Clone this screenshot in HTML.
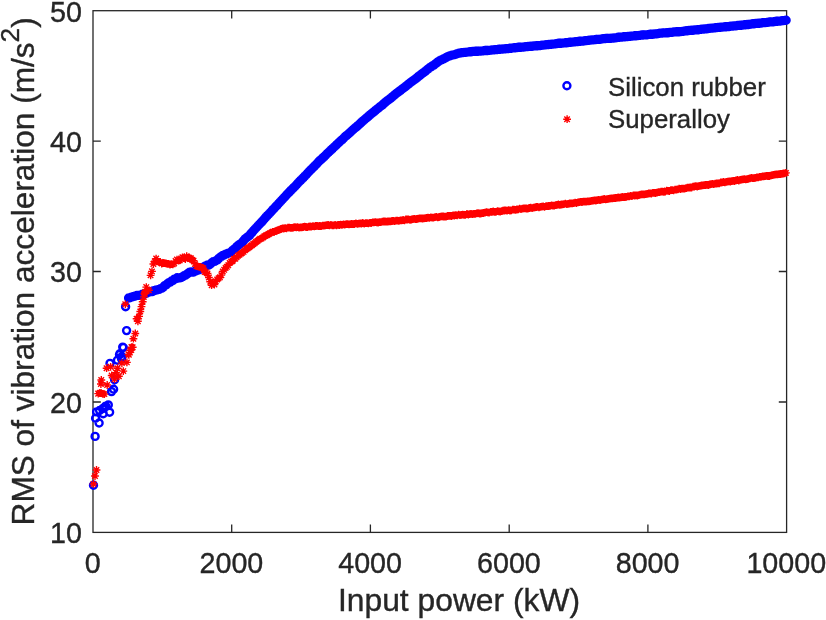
<!DOCTYPE html>
<html><head><meta charset="utf-8"><title>RMS of vibration acceleration vs input power</title>
<style>html,body{margin:0;padding:0;background:#fff}svg{display:block}text{font-family:"Liberation Sans",Arial,sans-serif;fill:#262626;stroke:#262626;stroke-width:0.35px}</style></head><body>
<svg width="826" height="620" viewBox="0 0 826 620">
<rect width="826" height="620" fill="#fff"/>
<g fill="none" stroke="#262626" stroke-width="1.3">
<rect x="93.0" y="10.7" width="693.6" height="521.7"/>
<path d="M231.7 532.4v-7.8M231.7 10.7v7.8M370.4 532.4v-7.8M370.4 10.7v7.8M509.2 532.4v-7.8M509.2 10.7v7.8M647.9 532.4v-7.8M647.9 10.7v7.8M93.0 402.0h7.8M786.6 402.0h-7.8M93.0 271.5h7.8M786.6 271.5h-7.8M93.0 141.1h7.8M786.6 141.1h-7.8"/>
</g>
<g fill="none" stroke="#0000ff" stroke-width="2.4"><path d="M90.0 485.2a3.50 3.50 0 1 0 7.00 0a3.50 3.50 0 1 0 -7.00 0M91.6 436.4a3.50 3.50 0 1 0 7.00 0a3.50 3.50 0 1 0 -7.00 0M92.1 418.3a3.50 3.50 0 1 0 7.00 0a3.50 3.50 0 1 0 -7.00 0M93.1 411.9a3.50 3.50 0 1 0 7.00 0a3.50 3.50 0 1 0 -7.00 0M95.6 423.0a3.50 3.50 0 1 0 7.00 0a3.50 3.50 0 1 0 -7.00 0M96.1 410.5a3.50 3.50 0 1 0 7.00 0a3.50 3.50 0 1 0 -7.00 0M99.1 408.7a3.50 3.50 0 1 0 7.00 0a3.50 3.50 0 1 0 -7.00 0M99.7 413.8a3.50 3.50 0 1 0 7.00 0a3.50 3.50 0 1 0 -7.00 0M100.9 407.4a3.50 3.50 0 1 0 7.00 0a3.50 3.50 0 1 0 -7.00 0M102.2 406.1a3.50 3.50 0 1 0 7.00 0a3.50 3.50 0 1 0 -7.00 0M104.8 404.9a3.50 3.50 0 1 0 7.00 0a3.50 3.50 0 1 0 -7.00 0M106.1 412.2a3.50 3.50 0 1 0 7.00 0a3.50 3.50 0 1 0 -7.00 0M108.0 391.6a3.50 3.50 0 1 0 7.00 0a3.50 3.50 0 1 0 -7.00 0M110.1 389.2a3.50 3.50 0 1 0 7.00 0a3.50 3.50 0 1 0 -7.00 0M106.5 363.4a3.50 3.50 0 1 0 7.00 0a3.50 3.50 0 1 0 -7.00 0M111.1 379.8a3.50 3.50 0 1 0 7.00 0a3.50 3.50 0 1 0 -7.00 0M113.9 360.2a3.50 3.50 0 1 0 7.00 0a3.50 3.50 0 1 0 -7.00 0M116.5 353.6a3.50 3.50 0 1 0 7.00 0a3.50 3.50 0 1 0 -7.00 0M118.4 356.6a3.50 3.50 0 1 0 7.00 0a3.50 3.50 0 1 0 -7.00 0M116.0 354.6a3.50 3.50 0 1 0 7.00 0a3.50 3.50 0 1 0 -7.00 0M118.0 358.7a3.50 3.50 0 1 0 7.00 0a3.50 3.50 0 1 0 -7.00 0M119.2 347.1a3.50 3.50 0 1 0 7.00 0a3.50 3.50 0 1 0 -7.00 0M119.8 347.5a3.50 3.50 0 1 0 7.00 0a3.50 3.50 0 1 0 -7.00 0M123.1 330.6a3.50 3.50 0 1 0 7.00 0a3.50 3.50 0 1 0 -7.00 0M122.1 306.7a3.50 3.50 0 1 0 7.00 0a3.50 3.50 0 1 0 -7.00 0M125.1 298.0a3.50 3.50 0 1 0 7.00 0a3.50 3.50 0 1 0 -7.00 0M126.5 297.7a3.50 3.50 0 1 0 7.00 0a3.50 3.50 0 1 0 -7.00 0M127.9 297.1a3.50 3.50 0 1 0 7.00 0a3.50 3.50 0 1 0 -7.00 0M129.3 296.7a3.50 3.50 0 1 0 7.00 0a3.50 3.50 0 1 0 -7.00 0M130.6 296.4a3.50 3.50 0 1 0 7.00 0a3.50 3.50 0 1 0 -7.00 0M132.0 296.0a3.50 3.50 0 1 0 7.00 0a3.50 3.50 0 1 0 -7.00 0M133.4 295.5a3.50 3.50 0 1 0 7.00 0a3.50 3.50 0 1 0 -7.00 0M134.8 295.4a3.50 3.50 0 1 0 7.00 0a3.50 3.50 0 1 0 -7.00 0M136.2 295.2a3.50 3.50 0 1 0 7.00 0a3.50 3.50 0 1 0 -7.00 0M137.6 295.0a3.50 3.50 0 1 0 7.00 0a3.50 3.50 0 1 0 -7.00 0M139.0 294.3a3.50 3.50 0 1 0 7.00 0a3.50 3.50 0 1 0 -7.00 0M140.4 293.9a3.50 3.50 0 1 0 7.00 0a3.50 3.50 0 1 0 -7.00 0M141.7 293.6a3.50 3.50 0 1 0 7.00 0a3.50 3.50 0 1 0 -7.00 0M143.1 293.1a3.50 3.50 0 1 0 7.00 0a3.50 3.50 0 1 0 -7.00 0M144.5 292.2a3.50 3.50 0 1 0 7.00 0a3.50 3.50 0 1 0 -7.00 0M145.9 292.0a3.50 3.50 0 1 0 7.00 0a3.50 3.50 0 1 0 -7.00 0M147.3 291.6a3.50 3.50 0 1 0 7.00 0a3.50 3.50 0 1 0 -7.00 0M148.7 291.6a3.50 3.50 0 1 0 7.00 0a3.50 3.50 0 1 0 -7.00 0M150.1 290.6a3.50 3.50 0 1 0 7.00 0a3.50 3.50 0 1 0 -7.00 0M151.5 290.5a3.50 3.50 0 1 0 7.00 0a3.50 3.50 0 1 0 -7.00 0M152.8 290.0a3.50 3.50 0 1 0 7.00 0a3.50 3.50 0 1 0 -7.00 0M154.2 289.8a3.50 3.50 0 1 0 7.00 0a3.50 3.50 0 1 0 -7.00 0M155.6 289.4a3.50 3.50 0 1 0 7.00 0a3.50 3.50 0 1 0 -7.00 0M157.0 288.8a3.50 3.50 0 1 0 7.00 0a3.50 3.50 0 1 0 -7.00 0M158.4 288.1a3.50 3.50 0 1 0 7.00 0a3.50 3.50 0 1 0 -7.00 0M159.8 287.1a3.50 3.50 0 1 0 7.00 0a3.50 3.50 0 1 0 -7.00 0M161.2 285.6a3.50 3.50 0 1 0 7.00 0a3.50 3.50 0 1 0 -7.00 0M162.6 284.9a3.50 3.50 0 1 0 7.00 0a3.50 3.50 0 1 0 -7.00 0M163.9 283.7a3.50 3.50 0 1 0 7.00 0a3.50 3.50 0 1 0 -7.00 0M165.3 282.8a3.50 3.50 0 1 0 7.00 0a3.50 3.50 0 1 0 -7.00 0M166.7 282.1a3.50 3.50 0 1 0 7.00 0a3.50 3.50 0 1 0 -7.00 0M168.1 281.0a3.50 3.50 0 1 0 7.00 0a3.50 3.50 0 1 0 -7.00 0M169.5 280.5a3.50 3.50 0 1 0 7.00 0a3.50 3.50 0 1 0 -7.00 0M170.9 279.1a3.50 3.50 0 1 0 7.00 0a3.50 3.50 0 1 0 -7.00 0M172.3 278.8a3.50 3.50 0 1 0 7.00 0a3.50 3.50 0 1 0 -7.00 0M173.7 277.8a3.50 3.50 0 1 0 7.00 0a3.50 3.50 0 1 0 -7.00 0M175.0 278.0a3.50 3.50 0 1 0 7.00 0a3.50 3.50 0 1 0 -7.00 0M176.4 277.9a3.50 3.50 0 1 0 7.00 0a3.50 3.50 0 1 0 -7.00 0M177.8 277.5a3.50 3.50 0 1 0 7.00 0a3.50 3.50 0 1 0 -7.00 0M179.2 276.7a3.50 3.50 0 1 0 7.00 0a3.50 3.50 0 1 0 -7.00 0M180.6 275.7a3.50 3.50 0 1 0 7.00 0a3.50 3.50 0 1 0 -7.00 0M182.0 275.3a3.50 3.50 0 1 0 7.00 0a3.50 3.50 0 1 0 -7.00 0M183.4 274.3a3.50 3.50 0 1 0 7.00 0a3.50 3.50 0 1 0 -7.00 0M184.7 273.3a3.50 3.50 0 1 0 7.00 0a3.50 3.50 0 1 0 -7.00 0M186.1 272.2a3.50 3.50 0 1 0 7.00 0a3.50 3.50 0 1 0 -7.00 0M187.5 271.9a3.50 3.50 0 1 0 7.00 0a3.50 3.50 0 1 0 -7.00 0M188.9 272.1a3.50 3.50 0 1 0 7.00 0a3.50 3.50 0 1 0 -7.00 0M190.3 272.0a3.50 3.50 0 1 0 7.00 0a3.50 3.50 0 1 0 -7.00 0M191.7 271.2a3.50 3.50 0 1 0 7.00 0a3.50 3.50 0 1 0 -7.00 0M193.1 270.7a3.50 3.50 0 1 0 7.00 0a3.50 3.50 0 1 0 -7.00 0M194.5 270.1a3.50 3.50 0 1 0 7.00 0a3.50 3.50 0 1 0 -7.00 0M195.8 269.7a3.50 3.50 0 1 0 7.00 0a3.50 3.50 0 1 0 -7.00 0M197.2 268.7a3.50 3.50 0 1 0 7.00 0a3.50 3.50 0 1 0 -7.00 0M198.6 268.0a3.50 3.50 0 1 0 7.00 0a3.50 3.50 0 1 0 -7.00 0M200.0 267.2a3.50 3.50 0 1 0 7.00 0a3.50 3.50 0 1 0 -7.00 0M201.4 266.2a3.50 3.50 0 1 0 7.00 0a3.50 3.50 0 1 0 -7.00 0M202.8 265.7a3.50 3.50 0 1 0 7.00 0a3.50 3.50 0 1 0 -7.00 0M204.2 265.0a3.50 3.50 0 1 0 7.00 0a3.50 3.50 0 1 0 -7.00 0M205.6 265.0a3.50 3.50 0 1 0 7.00 0a3.50 3.50 0 1 0 -7.00 0M206.9 264.0a3.50 3.50 0 1 0 7.00 0a3.50 3.50 0 1 0 -7.00 0M208.3 262.8a3.50 3.50 0 1 0 7.00 0a3.50 3.50 0 1 0 -7.00 0M209.7 261.7a3.50 3.50 0 1 0 7.00 0a3.50 3.50 0 1 0 -7.00 0M211.1 261.4a3.50 3.50 0 1 0 7.00 0a3.50 3.50 0 1 0 -7.00 0M212.5 260.8a3.50 3.50 0 1 0 7.00 0a3.50 3.50 0 1 0 -7.00 0M213.9 259.9a3.50 3.50 0 1 0 7.00 0a3.50 3.50 0 1 0 -7.00 0M215.3 258.4a3.50 3.50 0 1 0 7.00 0a3.50 3.50 0 1 0 -7.00 0M216.7 257.2a3.50 3.50 0 1 0 7.00 0a3.50 3.50 0 1 0 -7.00 0M218.0 256.4a3.50 3.50 0 1 0 7.00 0a3.50 3.50 0 1 0 -7.00 0M219.4 255.4a3.50 3.50 0 1 0 7.00 0a3.50 3.50 0 1 0 -7.00 0M220.8 255.0a3.50 3.50 0 1 0 7.00 0a3.50 3.50 0 1 0 -7.00 0M222.2 254.2a3.50 3.50 0 1 0 7.00 0a3.50 3.50 0 1 0 -7.00 0M223.6 253.8a3.50 3.50 0 1 0 7.00 0a3.50 3.50 0 1 0 -7.00 0M225.0 253.1a3.50 3.50 0 1 0 7.00 0a3.50 3.50 0 1 0 -7.00 0M226.4 252.8a3.50 3.50 0 1 0 7.00 0a3.50 3.50 0 1 0 -7.00 0M227.8 251.7a3.50 3.50 0 1 0 7.00 0a3.50 3.50 0 1 0 -7.00 0M229.1 250.4a3.50 3.50 0 1 0 7.00 0a3.50 3.50 0 1 0 -7.00 0M230.5 249.2a3.50 3.50 0 1 0 7.00 0a3.50 3.50 0 1 0 -7.00 0M231.9 248.2a3.50 3.50 0 1 0 7.00 0a3.50 3.50 0 1 0 -7.00 0M233.3 246.6a3.50 3.50 0 1 0 7.00 0a3.50 3.50 0 1 0 -7.00 0M234.7 245.4a3.50 3.50 0 1 0 7.00 0a3.50 3.50 0 1 0 -7.00 0M236.1 244.4a3.50 3.50 0 1 0 7.00 0a3.50 3.50 0 1 0 -7.00 0M237.5 243.7a3.50 3.50 0 1 0 7.00 0a3.50 3.50 0 1 0 -7.00 0M238.9 242.1a3.50 3.50 0 1 0 7.00 0a3.50 3.50 0 1 0 -7.00 0M240.2 240.5a3.50 3.50 0 1 0 7.00 0a3.50 3.50 0 1 0 -7.00 0M241.6 238.9a3.50 3.50 0 1 0 7.00 0a3.50 3.50 0 1 0 -7.00 0M243.0 237.8a3.50 3.50 0 1 0 7.00 0a3.50 3.50 0 1 0 -7.00 0M244.4 236.8a3.50 3.50 0 1 0 7.00 0a3.50 3.50 0 1 0 -7.00 0M245.8 235.8a3.50 3.50 0 1 0 7.00 0a3.50 3.50 0 1 0 -7.00 0M247.2 233.9a3.50 3.50 0 1 0 7.00 0a3.50 3.50 0 1 0 -7.00 0M248.6 232.4a3.50 3.50 0 1 0 7.00 0a3.50 3.50 0 1 0 -7.00 0M249.9 230.8a3.50 3.50 0 1 0 7.00 0a3.50 3.50 0 1 0 -7.00 0M251.3 229.3a3.50 3.50 0 1 0 7.00 0a3.50 3.50 0 1 0 -7.00 0M252.7 227.8a3.50 3.50 0 1 0 7.00 0a3.50 3.50 0 1 0 -7.00 0M254.1 226.2a3.50 3.50 0 1 0 7.00 0a3.50 3.50 0 1 0 -7.00 0M255.5 224.8a3.50 3.50 0 1 0 7.00 0a3.50 3.50 0 1 0 -7.00 0M256.9 223.3a3.50 3.50 0 1 0 7.00 0a3.50 3.50 0 1 0 -7.00 0M258.3 221.9a3.50 3.50 0 1 0 7.00 0a3.50 3.50 0 1 0 -7.00 0M259.7 220.3a3.50 3.50 0 1 0 7.00 0a3.50 3.50 0 1 0 -7.00 0M261.0 218.7a3.50 3.50 0 1 0 7.00 0a3.50 3.50 0 1 0 -7.00 0M262.4 217.1a3.50 3.50 0 1 0 7.00 0a3.50 3.50 0 1 0 -7.00 0M263.8 215.6a3.50 3.50 0 1 0 7.00 0a3.50 3.50 0 1 0 -7.00 0M265.2 214.2a3.50 3.50 0 1 0 7.00 0a3.50 3.50 0 1 0 -7.00 0M266.6 212.7a3.50 3.50 0 1 0 7.00 0a3.50 3.50 0 1 0 -7.00 0M268.0 211.2a3.50 3.50 0 1 0 7.00 0a3.50 3.50 0 1 0 -7.00 0M269.4 209.6a3.50 3.50 0 1 0 7.00 0a3.50 3.50 0 1 0 -7.00 0M270.8 208.3a3.50 3.50 0 1 0 7.00 0a3.50 3.50 0 1 0 -7.00 0M272.1 206.8a3.50 3.50 0 1 0 7.00 0a3.50 3.50 0 1 0 -7.00 0M273.5 205.4a3.50 3.50 0 1 0 7.00 0a3.50 3.50 0 1 0 -7.00 0M274.9 203.8a3.50 3.50 0 1 0 7.00 0a3.50 3.50 0 1 0 -7.00 0M276.3 202.3a3.50 3.50 0 1 0 7.00 0a3.50 3.50 0 1 0 -7.00 0M277.7 200.7a3.50 3.50 0 1 0 7.00 0a3.50 3.50 0 1 0 -7.00 0M279.1 199.3a3.50 3.50 0 1 0 7.00 0a3.50 3.50 0 1 0 -7.00 0M280.5 197.8a3.50 3.50 0 1 0 7.00 0a3.50 3.50 0 1 0 -7.00 0M281.9 196.3a3.50 3.50 0 1 0 7.00 0a3.50 3.50 0 1 0 -7.00 0M283.2 194.8a3.50 3.50 0 1 0 7.00 0a3.50 3.50 0 1 0 -7.00 0M284.6 193.3a3.50 3.50 0 1 0 7.00 0a3.50 3.50 0 1 0 -7.00 0M286.0 191.9a3.50 3.50 0 1 0 7.00 0a3.50 3.50 0 1 0 -7.00 0M287.4 190.4a3.50 3.50 0 1 0 7.00 0a3.50 3.50 0 1 0 -7.00 0M288.8 189.0a3.50 3.50 0 1 0 7.00 0a3.50 3.50 0 1 0 -7.00 0M290.2 187.6a3.50 3.50 0 1 0 7.00 0a3.50 3.50 0 1 0 -7.00 0M291.6 186.2a3.50 3.50 0 1 0 7.00 0a3.50 3.50 0 1 0 -7.00 0M293.0 184.7a3.50 3.50 0 1 0 7.00 0a3.50 3.50 0 1 0 -7.00 0M294.3 183.2a3.50 3.50 0 1 0 7.00 0a3.50 3.50 0 1 0 -7.00 0M295.7 181.8a3.50 3.50 0 1 0 7.00 0a3.50 3.50 0 1 0 -7.00 0M297.1 180.4a3.50 3.50 0 1 0 7.00 0a3.50 3.50 0 1 0 -7.00 0M298.5 179.0a3.50 3.50 0 1 0 7.00 0a3.50 3.50 0 1 0 -7.00 0M299.9 177.6a3.50 3.50 0 1 0 7.00 0a3.50 3.50 0 1 0 -7.00 0M301.3 176.1a3.50 3.50 0 1 0 7.00 0a3.50 3.50 0 1 0 -7.00 0M302.7 174.7a3.50 3.50 0 1 0 7.00 0a3.50 3.50 0 1 0 -7.00 0M304.0 173.2a3.50 3.50 0 1 0 7.00 0a3.50 3.50 0 1 0 -7.00 0M305.4 171.8a3.50 3.50 0 1 0 7.00 0a3.50 3.50 0 1 0 -7.00 0M306.8 170.3a3.50 3.50 0 1 0 7.00 0a3.50 3.50 0 1 0 -7.00 0M308.2 169.0a3.50 3.50 0 1 0 7.00 0a3.50 3.50 0 1 0 -7.00 0M309.6 167.5a3.50 3.50 0 1 0 7.00 0a3.50 3.50 0 1 0 -7.00 0M311.0 166.1a3.50 3.50 0 1 0 7.00 0a3.50 3.50 0 1 0 -7.00 0M312.4 164.7a3.50 3.50 0 1 0 7.00 0a3.50 3.50 0 1 0 -7.00 0M313.8 163.2a3.50 3.50 0 1 0 7.00 0a3.50 3.50 0 1 0 -7.00 0M315.1 161.8a3.50 3.50 0 1 0 7.00 0a3.50 3.50 0 1 0 -7.00 0M316.5 160.4a3.50 3.50 0 1 0 7.00 0a3.50 3.50 0 1 0 -7.00 0M317.9 159.2a3.50 3.50 0 1 0 7.00 0a3.50 3.50 0 1 0 -7.00 0M319.3 157.9a3.50 3.50 0 1 0 7.00 0a3.50 3.50 0 1 0 -7.00 0M320.7 156.6a3.50 3.50 0 1 0 7.00 0a3.50 3.50 0 1 0 -7.00 0M322.1 155.2a3.50 3.50 0 1 0 7.00 0a3.50 3.50 0 1 0 -7.00 0M323.5 153.8a3.50 3.50 0 1 0 7.00 0a3.50 3.50 0 1 0 -7.00 0M324.9 152.5a3.50 3.50 0 1 0 7.00 0a3.50 3.50 0 1 0 -7.00 0M326.2 151.2a3.50 3.50 0 1 0 7.00 0a3.50 3.50 0 1 0 -7.00 0M327.6 149.9a3.50 3.50 0 1 0 7.00 0a3.50 3.50 0 1 0 -7.00 0M329.0 148.6a3.50 3.50 0 1 0 7.00 0a3.50 3.50 0 1 0 -7.00 0M330.4 147.2a3.50 3.50 0 1 0 7.00 0a3.50 3.50 0 1 0 -7.00 0M331.8 146.0a3.50 3.50 0 1 0 7.00 0a3.50 3.50 0 1 0 -7.00 0M333.2 144.6a3.50 3.50 0 1 0 7.00 0a3.50 3.50 0 1 0 -7.00 0M334.6 143.3a3.50 3.50 0 1 0 7.00 0a3.50 3.50 0 1 0 -7.00 0M336.0 142.0a3.50 3.50 0 1 0 7.00 0a3.50 3.50 0 1 0 -7.00 0M337.3 140.8a3.50 3.50 0 1 0 7.00 0a3.50 3.50 0 1 0 -7.00 0M338.7 139.6a3.50 3.50 0 1 0 7.00 0a3.50 3.50 0 1 0 -7.00 0M340.1 138.2a3.50 3.50 0 1 0 7.00 0a3.50 3.50 0 1 0 -7.00 0M341.5 136.8a3.50 3.50 0 1 0 7.00 0a3.50 3.50 0 1 0 -7.00 0M342.9 135.6a3.50 3.50 0 1 0 7.00 0a3.50 3.50 0 1 0 -7.00 0M344.3 134.5a3.50 3.50 0 1 0 7.00 0a3.50 3.50 0 1 0 -7.00 0M345.7 133.2a3.50 3.50 0 1 0 7.00 0a3.50 3.50 0 1 0 -7.00 0M347.1 132.0a3.50 3.50 0 1 0 7.00 0a3.50 3.50 0 1 0 -7.00 0M348.4 130.8a3.50 3.50 0 1 0 7.00 0a3.50 3.50 0 1 0 -7.00 0M349.8 129.5a3.50 3.50 0 1 0 7.00 0a3.50 3.50 0 1 0 -7.00 0M351.2 128.3a3.50 3.50 0 1 0 7.00 0a3.50 3.50 0 1 0 -7.00 0M352.6 127.1a3.50 3.50 0 1 0 7.00 0a3.50 3.50 0 1 0 -7.00 0M354.0 125.9a3.50 3.50 0 1 0 7.00 0a3.50 3.50 0 1 0 -7.00 0M355.4 124.7a3.50 3.50 0 1 0 7.00 0a3.50 3.50 0 1 0 -7.00 0M356.8 123.4a3.50 3.50 0 1 0 7.00 0a3.50 3.50 0 1 0 -7.00 0M358.1 122.1a3.50 3.50 0 1 0 7.00 0a3.50 3.50 0 1 0 -7.00 0M359.5 120.9a3.50 3.50 0 1 0 7.00 0a3.50 3.50 0 1 0 -7.00 0M360.9 119.7a3.50 3.50 0 1 0 7.00 0a3.50 3.50 0 1 0 -7.00 0M362.3 118.5a3.50 3.50 0 1 0 7.00 0a3.50 3.50 0 1 0 -7.00 0M363.7 117.4a3.50 3.50 0 1 0 7.00 0a3.50 3.50 0 1 0 -7.00 0M365.1 116.1a3.50 3.50 0 1 0 7.00 0a3.50 3.50 0 1 0 -7.00 0M366.5 114.9a3.50 3.50 0 1 0 7.00 0a3.50 3.50 0 1 0 -7.00 0M367.9 113.8a3.50 3.50 0 1 0 7.00 0a3.50 3.50 0 1 0 -7.00 0M369.2 112.7a3.50 3.50 0 1 0 7.00 0a3.50 3.50 0 1 0 -7.00 0M370.6 111.6a3.50 3.50 0 1 0 7.00 0a3.50 3.50 0 1 0 -7.00 0M372.0 110.4a3.50 3.50 0 1 0 7.00 0a3.50 3.50 0 1 0 -7.00 0M373.4 109.2a3.50 3.50 0 1 0 7.00 0a3.50 3.50 0 1 0 -7.00 0M374.8 108.2a3.50 3.50 0 1 0 7.00 0a3.50 3.50 0 1 0 -7.00 0M376.2 107.0a3.50 3.50 0 1 0 7.00 0a3.50 3.50 0 1 0 -7.00 0M377.6 106.0a3.50 3.50 0 1 0 7.00 0a3.50 3.50 0 1 0 -7.00 0M379.0 104.9a3.50 3.50 0 1 0 7.00 0a3.50 3.50 0 1 0 -7.00 0M380.3 103.6a3.50 3.50 0 1 0 7.00 0a3.50 3.50 0 1 0 -7.00 0M381.7 102.4a3.50 3.50 0 1 0 7.00 0a3.50 3.50 0 1 0 -7.00 0M383.1 101.3a3.50 3.50 0 1 0 7.00 0a3.50 3.50 0 1 0 -7.00 0M384.5 100.2a3.50 3.50 0 1 0 7.00 0a3.50 3.50 0 1 0 -7.00 0M385.9 99.2a3.50 3.50 0 1 0 7.00 0a3.50 3.50 0 1 0 -7.00 0M387.3 98.1a3.50 3.50 0 1 0 7.00 0a3.50 3.50 0 1 0 -7.00 0M388.7 96.9a3.50 3.50 0 1 0 7.00 0a3.50 3.50 0 1 0 -7.00 0M390.1 95.8a3.50 3.50 0 1 0 7.00 0a3.50 3.50 0 1 0 -7.00 0M391.4 94.6a3.50 3.50 0 1 0 7.00 0a3.50 3.50 0 1 0 -7.00 0M392.8 93.5a3.50 3.50 0 1 0 7.00 0a3.50 3.50 0 1 0 -7.00 0M394.2 92.5a3.50 3.50 0 1 0 7.00 0a3.50 3.50 0 1 0 -7.00 0M395.6 91.4a3.50 3.50 0 1 0 7.00 0a3.50 3.50 0 1 0 -7.00 0M397.0 90.4a3.50 3.50 0 1 0 7.00 0a3.50 3.50 0 1 0 -7.00 0M398.4 89.3a3.50 3.50 0 1 0 7.00 0a3.50 3.50 0 1 0 -7.00 0M399.8 88.3a3.50 3.50 0 1 0 7.00 0a3.50 3.50 0 1 0 -7.00 0M401.2 87.2a3.50 3.50 0 1 0 7.00 0a3.50 3.50 0 1 0 -7.00 0M402.5 86.1a3.50 3.50 0 1 0 7.00 0a3.50 3.50 0 1 0 -7.00 0M403.9 85.0a3.50 3.50 0 1 0 7.00 0a3.50 3.50 0 1 0 -7.00 0M405.3 83.9a3.50 3.50 0 1 0 7.00 0a3.50 3.50 0 1 0 -7.00 0M406.7 82.8a3.50 3.50 0 1 0 7.00 0a3.50 3.50 0 1 0 -7.00 0M408.1 81.8a3.50 3.50 0 1 0 7.00 0a3.50 3.50 0 1 0 -7.00 0M409.5 80.8a3.50 3.50 0 1 0 7.00 0a3.50 3.50 0 1 0 -7.00 0M410.9 79.8a3.50 3.50 0 1 0 7.00 0a3.50 3.50 0 1 0 -7.00 0M412.3 78.7a3.50 3.50 0 1 0 7.00 0a3.50 3.50 0 1 0 -7.00 0M413.6 77.6a3.50 3.50 0 1 0 7.00 0a3.50 3.50 0 1 0 -7.00 0M415.0 76.4a3.50 3.50 0 1 0 7.00 0a3.50 3.50 0 1 0 -7.00 0M416.4 75.4a3.50 3.50 0 1 0 7.00 0a3.50 3.50 0 1 0 -7.00 0M417.8 74.3a3.50 3.50 0 1 0 7.00 0a3.50 3.50 0 1 0 -7.00 0M419.2 73.3a3.50 3.50 0 1 0 7.00 0a3.50 3.50 0 1 0 -7.00 0M420.6 72.2a3.50 3.50 0 1 0 7.00 0a3.50 3.50 0 1 0 -7.00 0M422.0 71.1a3.50 3.50 0 1 0 7.00 0a3.50 3.50 0 1 0 -7.00 0M423.3 70.0a3.50 3.50 0 1 0 7.00 0a3.50 3.50 0 1 0 -7.00 0M424.7 68.9a3.50 3.50 0 1 0 7.00 0a3.50 3.50 0 1 0 -7.00 0M426.1 67.8a3.50 3.50 0 1 0 7.00 0a3.50 3.50 0 1 0 -7.00 0M427.5 66.9a3.50 3.50 0 1 0 7.00 0a3.50 3.50 0 1 0 -7.00 0M428.9 65.9a3.50 3.50 0 1 0 7.00 0a3.50 3.50 0 1 0 -7.00 0M430.3 65.1a3.50 3.50 0 1 0 7.00 0a3.50 3.50 0 1 0 -7.00 0M431.7 64.0a3.50 3.50 0 1 0 7.00 0a3.50 3.50 0 1 0 -7.00 0M433.1 63.0a3.50 3.50 0 1 0 7.00 0a3.50 3.50 0 1 0 -7.00 0M434.4 61.9a3.50 3.50 0 1 0 7.00 0a3.50 3.50 0 1 0 -7.00 0M435.8 61.0a3.50 3.50 0 1 0 7.00 0a3.50 3.50 0 1 0 -7.00 0M437.2 60.3a3.50 3.50 0 1 0 7.00 0a3.50 3.50 0 1 0 -7.00 0M438.6 59.6a3.50 3.50 0 1 0 7.00 0a3.50 3.50 0 1 0 -7.00 0M440.0 58.9a3.50 3.50 0 1 0 7.00 0a3.50 3.50 0 1 0 -7.00 0M441.4 58.2a3.50 3.50 0 1 0 7.00 0a3.50 3.50 0 1 0 -7.00 0M442.8 57.5a3.50 3.50 0 1 0 7.00 0a3.50 3.50 0 1 0 -7.00 0M444.2 56.8a3.50 3.50 0 1 0 7.00 0a3.50 3.50 0 1 0 -7.00 0M445.5 56.1a3.50 3.50 0 1 0 7.00 0a3.50 3.50 0 1 0 -7.00 0M446.9 55.7a3.50 3.50 0 1 0 7.00 0a3.50 3.50 0 1 0 -7.00 0M448.3 55.3a3.50 3.50 0 1 0 7.00 0a3.50 3.50 0 1 0 -7.00 0M449.7 54.9a3.50 3.50 0 1 0 7.00 0a3.50 3.50 0 1 0 -7.00 0M451.1 54.6a3.50 3.50 0 1 0 7.00 0a3.50 3.50 0 1 0 -7.00 0M452.5 54.1a3.50 3.50 0 1 0 7.00 0a3.50 3.50 0 1 0 -7.00 0M453.9 53.6a3.50 3.50 0 1 0 7.00 0a3.50 3.50 0 1 0 -7.00 0M455.3 53.2a3.50 3.50 0 1 0 7.00 0a3.50 3.50 0 1 0 -7.00 0M456.6 53.0a3.50 3.50 0 1 0 7.00 0a3.50 3.50 0 1 0 -7.00 0M458.0 52.7a3.50 3.50 0 1 0 7.00 0a3.50 3.50 0 1 0 -7.00 0M459.4 52.6a3.50 3.50 0 1 0 7.00 0a3.50 3.50 0 1 0 -7.00 0M460.8 52.4a3.50 3.50 0 1 0 7.00 0a3.50 3.50 0 1 0 -7.00 0M462.2 52.4a3.50 3.50 0 1 0 7.00 0a3.50 3.50 0 1 0 -7.00 0M463.6 52.1a3.50 3.50 0 1 0 7.00 0a3.50 3.50 0 1 0 -7.00 0M465.0 51.9a3.50 3.50 0 1 0 7.00 0a3.50 3.50 0 1 0 -7.00 0M466.4 51.8a3.50 3.50 0 1 0 7.00 0a3.50 3.50 0 1 0 -7.00 0M467.7 51.7a3.50 3.50 0 1 0 7.00 0a3.50 3.50 0 1 0 -7.00 0M469.1 51.5a3.50 3.50 0 1 0 7.00 0a3.50 3.50 0 1 0 -7.00 0M470.5 51.4a3.50 3.50 0 1 0 7.00 0a3.50 3.50 0 1 0 -7.00 0M471.9 51.3a3.50 3.50 0 1 0 7.00 0a3.50 3.50 0 1 0 -7.00 0M473.3 51.3a3.50 3.50 0 1 0 7.00 0a3.50 3.50 0 1 0 -7.00 0M474.7 51.2a3.50 3.50 0 1 0 7.00 0a3.50 3.50 0 1 0 -7.00 0M476.1 51.1a3.50 3.50 0 1 0 7.00 0a3.50 3.50 0 1 0 -7.00 0M477.4 51.1a3.50 3.50 0 1 0 7.00 0a3.50 3.50 0 1 0 -7.00 0M478.8 50.9a3.50 3.50 0 1 0 7.00 0a3.50 3.50 0 1 0 -7.00 0M480.2 50.7a3.50 3.50 0 1 0 7.00 0a3.50 3.50 0 1 0 -7.00 0M481.6 50.5a3.50 3.50 0 1 0 7.00 0a3.50 3.50 0 1 0 -7.00 0M483.0 50.5a3.50 3.50 0 1 0 7.00 0a3.50 3.50 0 1 0 -7.00 0M484.4 50.5a3.50 3.50 0 1 0 7.00 0a3.50 3.50 0 1 0 -7.00 0M485.8 50.4a3.50 3.50 0 1 0 7.00 0a3.50 3.50 0 1 0 -7.00 0M487.2 50.1a3.50 3.50 0 1 0 7.00 0a3.50 3.50 0 1 0 -7.00 0M488.5 50.0a3.50 3.50 0 1 0 7.00 0a3.50 3.50 0 1 0 -7.00 0M489.9 49.9a3.50 3.50 0 1 0 7.00 0a3.50 3.50 0 1 0 -7.00 0M491.3 49.8a3.50 3.50 0 1 0 7.00 0a3.50 3.50 0 1 0 -7.00 0M492.7 49.6a3.50 3.50 0 1 0 7.00 0a3.50 3.50 0 1 0 -7.00 0M494.1 49.5a3.50 3.50 0 1 0 7.00 0a3.50 3.50 0 1 0 -7.00 0M495.5 49.3a3.50 3.50 0 1 0 7.00 0a3.50 3.50 0 1 0 -7.00 0M496.9 49.2a3.50 3.50 0 1 0 7.00 0a3.50 3.50 0 1 0 -7.00 0M498.3 49.1a3.50 3.50 0 1 0 7.00 0a3.50 3.50 0 1 0 -7.00 0M499.6 49.0a3.50 3.50 0 1 0 7.00 0a3.50 3.50 0 1 0 -7.00 0M501.0 48.9a3.50 3.50 0 1 0 7.00 0a3.50 3.50 0 1 0 -7.00 0M502.4 48.7a3.50 3.50 0 1 0 7.00 0a3.50 3.50 0 1 0 -7.00 0M503.8 48.6a3.50 3.50 0 1 0 7.00 0a3.50 3.50 0 1 0 -7.00 0M505.2 48.5a3.50 3.50 0 1 0 7.00 0a3.50 3.50 0 1 0 -7.00 0M506.6 48.3a3.50 3.50 0 1 0 7.00 0a3.50 3.50 0 1 0 -7.00 0M508.0 48.2a3.50 3.50 0 1 0 7.00 0a3.50 3.50 0 1 0 -7.00 0M509.4 47.9a3.50 3.50 0 1 0 7.00 0a3.50 3.50 0 1 0 -7.00 0M510.7 47.8a3.50 3.50 0 1 0 7.00 0a3.50 3.50 0 1 0 -7.00 0M512.1 47.7a3.50 3.50 0 1 0 7.00 0a3.50 3.50 0 1 0 -7.00 0M513.5 47.6a3.50 3.50 0 1 0 7.00 0a3.50 3.50 0 1 0 -7.00 0M514.9 47.3a3.50 3.50 0 1 0 7.00 0a3.50 3.50 0 1 0 -7.00 0M516.3 47.2a3.50 3.50 0 1 0 7.00 0a3.50 3.50 0 1 0 -7.00 0M517.7 47.2a3.50 3.50 0 1 0 7.00 0a3.50 3.50 0 1 0 -7.00 0M519.1 47.1a3.50 3.50 0 1 0 7.00 0a3.50 3.50 0 1 0 -7.00 0M520.5 47.0a3.50 3.50 0 1 0 7.00 0a3.50 3.50 0 1 0 -7.00 0M521.8 46.8a3.50 3.50 0 1 0 7.00 0a3.50 3.50 0 1 0 -7.00 0M523.2 46.6a3.50 3.50 0 1 0 7.00 0a3.50 3.50 0 1 0 -7.00 0M524.6 46.5a3.50 3.50 0 1 0 7.00 0a3.50 3.50 0 1 0 -7.00 0M526.0 46.4a3.50 3.50 0 1 0 7.00 0a3.50 3.50 0 1 0 -7.00 0M527.4 46.3a3.50 3.50 0 1 0 7.00 0a3.50 3.50 0 1 0 -7.00 0M528.8 46.2a3.50 3.50 0 1 0 7.00 0a3.50 3.50 0 1 0 -7.00 0M530.2 46.0a3.50 3.50 0 1 0 7.00 0a3.50 3.50 0 1 0 -7.00 0M531.5 45.9a3.50 3.50 0 1 0 7.00 0a3.50 3.50 0 1 0 -7.00 0M532.9 45.7a3.50 3.50 0 1 0 7.00 0a3.50 3.50 0 1 0 -7.00 0M534.3 45.7a3.50 3.50 0 1 0 7.00 0a3.50 3.50 0 1 0 -7.00 0M535.7 45.6a3.50 3.50 0 1 0 7.00 0a3.50 3.50 0 1 0 -7.00 0M537.1 45.5a3.50 3.50 0 1 0 7.00 0a3.50 3.50 0 1 0 -7.00 0M538.5 45.2a3.50 3.50 0 1 0 7.00 0a3.50 3.50 0 1 0 -7.00 0M539.9 45.1a3.50 3.50 0 1 0 7.00 0a3.50 3.50 0 1 0 -7.00 0M541.3 44.9a3.50 3.50 0 1 0 7.00 0a3.50 3.50 0 1 0 -7.00 0M542.6 44.7a3.50 3.50 0 1 0 7.00 0a3.50 3.50 0 1 0 -7.00 0M544.0 44.6a3.50 3.50 0 1 0 7.00 0a3.50 3.50 0 1 0 -7.00 0M545.4 44.5a3.50 3.50 0 1 0 7.00 0a3.50 3.50 0 1 0 -7.00 0M546.8 44.4a3.50 3.50 0 1 0 7.00 0a3.50 3.50 0 1 0 -7.00 0M548.2 44.3a3.50 3.50 0 1 0 7.00 0a3.50 3.50 0 1 0 -7.00 0M549.6 44.1a3.50 3.50 0 1 0 7.00 0a3.50 3.50 0 1 0 -7.00 0M551.0 43.9a3.50 3.50 0 1 0 7.00 0a3.50 3.50 0 1 0 -7.00 0M552.4 43.7a3.50 3.50 0 1 0 7.00 0a3.50 3.50 0 1 0 -7.00 0M553.7 43.5a3.50 3.50 0 1 0 7.00 0a3.50 3.50 0 1 0 -7.00 0M555.1 43.3a3.50 3.50 0 1 0 7.00 0a3.50 3.50 0 1 0 -7.00 0M556.5 43.3a3.50 3.50 0 1 0 7.00 0a3.50 3.50 0 1 0 -7.00 0M557.9 43.2a3.50 3.50 0 1 0 7.00 0a3.50 3.50 0 1 0 -7.00 0M559.3 43.1a3.50 3.50 0 1 0 7.00 0a3.50 3.50 0 1 0 -7.00 0M560.7 42.9a3.50 3.50 0 1 0 7.00 0a3.50 3.50 0 1 0 -7.00 0M562.1 42.8a3.50 3.50 0 1 0 7.00 0a3.50 3.50 0 1 0 -7.00 0M563.5 42.7a3.50 3.50 0 1 0 7.00 0a3.50 3.50 0 1 0 -7.00 0M564.8 42.5a3.50 3.50 0 1 0 7.00 0a3.50 3.50 0 1 0 -7.00 0M566.2 42.3a3.50 3.50 0 1 0 7.00 0a3.50 3.50 0 1 0 -7.00 0M567.6 42.2a3.50 3.50 0 1 0 7.00 0a3.50 3.50 0 1 0 -7.00 0M569.0 42.1a3.50 3.50 0 1 0 7.00 0a3.50 3.50 0 1 0 -7.00 0M570.4 41.9a3.50 3.50 0 1 0 7.00 0a3.50 3.50 0 1 0 -7.00 0M571.8 41.7a3.50 3.50 0 1 0 7.00 0a3.50 3.50 0 1 0 -7.00 0M573.2 41.6a3.50 3.50 0 1 0 7.00 0a3.50 3.50 0 1 0 -7.00 0M574.6 41.5a3.50 3.50 0 1 0 7.00 0a3.50 3.50 0 1 0 -7.00 0M575.9 41.3a3.50 3.50 0 1 0 7.00 0a3.50 3.50 0 1 0 -7.00 0M577.3 41.2a3.50 3.50 0 1 0 7.00 0a3.50 3.50 0 1 0 -7.00 0M578.7 41.1a3.50 3.50 0 1 0 7.00 0a3.50 3.50 0 1 0 -7.00 0M580.1 41.0a3.50 3.50 0 1 0 7.00 0a3.50 3.50 0 1 0 -7.00 0M581.5 40.8a3.50 3.50 0 1 0 7.00 0a3.50 3.50 0 1 0 -7.00 0M582.9 40.6a3.50 3.50 0 1 0 7.00 0a3.50 3.50 0 1 0 -7.00 0M584.3 40.4a3.50 3.50 0 1 0 7.00 0a3.50 3.50 0 1 0 -7.00 0M585.7 40.2a3.50 3.50 0 1 0 7.00 0a3.50 3.50 0 1 0 -7.00 0M587.0 40.1a3.50 3.50 0 1 0 7.00 0a3.50 3.50 0 1 0 -7.00 0M588.4 39.9a3.50 3.50 0 1 0 7.00 0a3.50 3.50 0 1 0 -7.00 0M589.8 39.9a3.50 3.50 0 1 0 7.00 0a3.50 3.50 0 1 0 -7.00 0M591.2 39.6a3.50 3.50 0 1 0 7.00 0a3.50 3.50 0 1 0 -7.00 0M592.6 39.5a3.50 3.50 0 1 0 7.00 0a3.50 3.50 0 1 0 -7.00 0M594.0 39.4a3.50 3.50 0 1 0 7.00 0a3.50 3.50 0 1 0 -7.00 0M595.4 39.4a3.50 3.50 0 1 0 7.00 0a3.50 3.50 0 1 0 -7.00 0M596.7 39.2a3.50 3.50 0 1 0 7.00 0a3.50 3.50 0 1 0 -7.00 0M598.1 39.0a3.50 3.50 0 1 0 7.00 0a3.50 3.50 0 1 0 -7.00 0M599.5 38.8a3.50 3.50 0 1 0 7.00 0a3.50 3.50 0 1 0 -7.00 0M600.9 38.6a3.50 3.50 0 1 0 7.00 0a3.50 3.50 0 1 0 -7.00 0M602.3 38.5a3.50 3.50 0 1 0 7.00 0a3.50 3.50 0 1 0 -7.00 0M603.7 38.4a3.50 3.50 0 1 0 7.00 0a3.50 3.50 0 1 0 -7.00 0M605.1 38.4a3.50 3.50 0 1 0 7.00 0a3.50 3.50 0 1 0 -7.00 0M606.5 38.4a3.50 3.50 0 1 0 7.00 0a3.50 3.50 0 1 0 -7.00 0M607.8 38.2a3.50 3.50 0 1 0 7.00 0a3.50 3.50 0 1 0 -7.00 0M609.2 38.1a3.50 3.50 0 1 0 7.00 0a3.50 3.50 0 1 0 -7.00 0M610.6 38.0a3.50 3.50 0 1 0 7.00 0a3.50 3.50 0 1 0 -7.00 0M612.0 37.9a3.50 3.50 0 1 0 7.00 0a3.50 3.50 0 1 0 -7.00 0M613.4 37.6a3.50 3.50 0 1 0 7.00 0a3.50 3.50 0 1 0 -7.00 0M614.8 37.3a3.50 3.50 0 1 0 7.00 0a3.50 3.50 0 1 0 -7.00 0M616.2 37.2a3.50 3.50 0 1 0 7.00 0a3.50 3.50 0 1 0 -7.00 0M617.6 37.1a3.50 3.50 0 1 0 7.00 0a3.50 3.50 0 1 0 -7.00 0M618.9 37.0a3.50 3.50 0 1 0 7.00 0a3.50 3.50 0 1 0 -7.00 0M620.3 36.8a3.50 3.50 0 1 0 7.00 0a3.50 3.50 0 1 0 -7.00 0M621.7 36.7a3.50 3.50 0 1 0 7.00 0a3.50 3.50 0 1 0 -7.00 0M623.1 36.6a3.50 3.50 0 1 0 7.00 0a3.50 3.50 0 1 0 -7.00 0M624.5 36.5a3.50 3.50 0 1 0 7.00 0a3.50 3.50 0 1 0 -7.00 0M625.9 36.4a3.50 3.50 0 1 0 7.00 0a3.50 3.50 0 1 0 -7.00 0M627.3 36.3a3.50 3.50 0 1 0 7.00 0a3.50 3.50 0 1 0 -7.00 0M628.7 36.1a3.50 3.50 0 1 0 7.00 0a3.50 3.50 0 1 0 -7.00 0M630.0 35.9a3.50 3.50 0 1 0 7.00 0a3.50 3.50 0 1 0 -7.00 0M631.4 35.8a3.50 3.50 0 1 0 7.00 0a3.50 3.50 0 1 0 -7.00 0M632.8 35.7a3.50 3.50 0 1 0 7.00 0a3.50 3.50 0 1 0 -7.00 0M634.2 35.6a3.50 3.50 0 1 0 7.00 0a3.50 3.50 0 1 0 -7.00 0M635.6 35.4a3.50 3.50 0 1 0 7.00 0a3.50 3.50 0 1 0 -7.00 0M637.0 35.2a3.50 3.50 0 1 0 7.00 0a3.50 3.50 0 1 0 -7.00 0M638.4 35.0a3.50 3.50 0 1 0 7.00 0a3.50 3.50 0 1 0 -7.00 0M639.8 35.0a3.50 3.50 0 1 0 7.00 0a3.50 3.50 0 1 0 -7.00 0M641.1 34.9a3.50 3.50 0 1 0 7.00 0a3.50 3.50 0 1 0 -7.00 0M642.5 34.9a3.50 3.50 0 1 0 7.00 0a3.50 3.50 0 1 0 -7.00 0M643.9 34.7a3.50 3.50 0 1 0 7.00 0a3.50 3.50 0 1 0 -7.00 0M645.3 34.4a3.50 3.50 0 1 0 7.00 0a3.50 3.50 0 1 0 -7.00 0M646.7 34.3a3.50 3.50 0 1 0 7.00 0a3.50 3.50 0 1 0 -7.00 0M648.1 34.2a3.50 3.50 0 1 0 7.00 0a3.50 3.50 0 1 0 -7.00 0M649.5 34.2a3.50 3.50 0 1 0 7.00 0a3.50 3.50 0 1 0 -7.00 0M650.8 34.0a3.50 3.50 0 1 0 7.00 0a3.50 3.50 0 1 0 -7.00 0M652.2 33.9a3.50 3.50 0 1 0 7.00 0a3.50 3.50 0 1 0 -7.00 0M653.6 33.7a3.50 3.50 0 1 0 7.00 0a3.50 3.50 0 1 0 -7.00 0M655.0 33.5a3.50 3.50 0 1 0 7.00 0a3.50 3.50 0 1 0 -7.00 0M656.4 33.3a3.50 3.50 0 1 0 7.00 0a3.50 3.50 0 1 0 -7.00 0M657.8 33.1a3.50 3.50 0 1 0 7.00 0a3.50 3.50 0 1 0 -7.00 0M659.2 33.0a3.50 3.50 0 1 0 7.00 0a3.50 3.50 0 1 0 -7.00 0M660.6 32.9a3.50 3.50 0 1 0 7.00 0a3.50 3.50 0 1 0 -7.00 0M661.9 32.9a3.50 3.50 0 1 0 7.00 0a3.50 3.50 0 1 0 -7.00 0M663.3 32.8a3.50 3.50 0 1 0 7.00 0a3.50 3.50 0 1 0 -7.00 0M664.7 32.7a3.50 3.50 0 1 0 7.00 0a3.50 3.50 0 1 0 -7.00 0M666.1 32.5a3.50 3.50 0 1 0 7.00 0a3.50 3.50 0 1 0 -7.00 0M667.5 32.4a3.50 3.50 0 1 0 7.00 0a3.50 3.50 0 1 0 -7.00 0M668.9 32.2a3.50 3.50 0 1 0 7.00 0a3.50 3.50 0 1 0 -7.00 0M670.3 32.0a3.50 3.50 0 1 0 7.00 0a3.50 3.50 0 1 0 -7.00 0M671.7 31.9a3.50 3.50 0 1 0 7.00 0a3.50 3.50 0 1 0 -7.00 0M673.0 31.8a3.50 3.50 0 1 0 7.00 0a3.50 3.50 0 1 0 -7.00 0M674.4 31.8a3.50 3.50 0 1 0 7.00 0a3.50 3.50 0 1 0 -7.00 0M675.8 31.7a3.50 3.50 0 1 0 7.00 0a3.50 3.50 0 1 0 -7.00 0M677.2 31.6a3.50 3.50 0 1 0 7.00 0a3.50 3.50 0 1 0 -7.00 0M678.6 31.4a3.50 3.50 0 1 0 7.00 0a3.50 3.50 0 1 0 -7.00 0M680.0 31.2a3.50 3.50 0 1 0 7.00 0a3.50 3.50 0 1 0 -7.00 0M681.4 31.0a3.50 3.50 0 1 0 7.00 0a3.50 3.50 0 1 0 -7.00 0M682.8 30.8a3.50 3.50 0 1 0 7.00 0a3.50 3.50 0 1 0 -7.00 0M684.1 30.7a3.50 3.50 0 1 0 7.00 0a3.50 3.50 0 1 0 -7.00 0M685.5 30.5a3.50 3.50 0 1 0 7.00 0a3.50 3.50 0 1 0 -7.00 0M686.9 30.4a3.50 3.50 0 1 0 7.00 0a3.50 3.50 0 1 0 -7.00 0M688.3 30.2a3.50 3.50 0 1 0 7.00 0a3.50 3.50 0 1 0 -7.00 0M689.7 30.2a3.50 3.50 0 1 0 7.00 0a3.50 3.50 0 1 0 -7.00 0M691.1 30.0a3.50 3.50 0 1 0 7.00 0a3.50 3.50 0 1 0 -7.00 0M692.5 29.9a3.50 3.50 0 1 0 7.00 0a3.50 3.50 0 1 0 -7.00 0M693.9 29.8a3.50 3.50 0 1 0 7.00 0a3.50 3.50 0 1 0 -7.00 0M695.2 29.7a3.50 3.50 0 1 0 7.00 0a3.50 3.50 0 1 0 -7.00 0M696.6 29.4a3.50 3.50 0 1 0 7.00 0a3.50 3.50 0 1 0 -7.00 0M698.0 29.2a3.50 3.50 0 1 0 7.00 0a3.50 3.50 0 1 0 -7.00 0M699.4 29.1a3.50 3.50 0 1 0 7.00 0a3.50 3.50 0 1 0 -7.00 0M700.8 29.0a3.50 3.50 0 1 0 7.00 0a3.50 3.50 0 1 0 -7.00 0M702.2 28.9a3.50 3.50 0 1 0 7.00 0a3.50 3.50 0 1 0 -7.00 0M703.6 28.7a3.50 3.50 0 1 0 7.00 0a3.50 3.50 0 1 0 -7.00 0M704.9 28.5a3.50 3.50 0 1 0 7.00 0a3.50 3.50 0 1 0 -7.00 0M706.3 28.4a3.50 3.50 0 1 0 7.00 0a3.50 3.50 0 1 0 -7.00 0M707.7 28.1a3.50 3.50 0 1 0 7.00 0a3.50 3.50 0 1 0 -7.00 0M709.1 28.1a3.50 3.50 0 1 0 7.00 0a3.50 3.50 0 1 0 -7.00 0M710.5 27.9a3.50 3.50 0 1 0 7.00 0a3.50 3.50 0 1 0 -7.00 0M711.9 27.8a3.50 3.50 0 1 0 7.00 0a3.50 3.50 0 1 0 -7.00 0M713.3 27.6a3.50 3.50 0 1 0 7.00 0a3.50 3.50 0 1 0 -7.00 0M714.7 27.4a3.50 3.50 0 1 0 7.00 0a3.50 3.50 0 1 0 -7.00 0M716.0 27.4a3.50 3.50 0 1 0 7.00 0a3.50 3.50 0 1 0 -7.00 0M717.4 27.2a3.50 3.50 0 1 0 7.00 0a3.50 3.50 0 1 0 -7.00 0M718.8 27.1a3.50 3.50 0 1 0 7.00 0a3.50 3.50 0 1 0 -7.00 0M720.2 26.9a3.50 3.50 0 1 0 7.00 0a3.50 3.50 0 1 0 -7.00 0M721.6 26.8a3.50 3.50 0 1 0 7.00 0a3.50 3.50 0 1 0 -7.00 0M723.0 26.7a3.50 3.50 0 1 0 7.00 0a3.50 3.50 0 1 0 -7.00 0M724.4 26.6a3.50 3.50 0 1 0 7.00 0a3.50 3.50 0 1 0 -7.00 0M725.8 26.5a3.50 3.50 0 1 0 7.00 0a3.50 3.50 0 1 0 -7.00 0M727.1 26.3a3.50 3.50 0 1 0 7.00 0a3.50 3.50 0 1 0 -7.00 0M728.5 26.1a3.50 3.50 0 1 0 7.00 0a3.50 3.50 0 1 0 -7.00 0M729.9 26.0a3.50 3.50 0 1 0 7.00 0a3.50 3.50 0 1 0 -7.00 0M731.3 25.9a3.50 3.50 0 1 0 7.00 0a3.50 3.50 0 1 0 -7.00 0M732.7 25.7a3.50 3.50 0 1 0 7.00 0a3.50 3.50 0 1 0 -7.00 0M734.1 25.5a3.50 3.50 0 1 0 7.00 0a3.50 3.50 0 1 0 -7.00 0M735.5 25.4a3.50 3.50 0 1 0 7.00 0a3.50 3.50 0 1 0 -7.00 0M736.9 25.3a3.50 3.50 0 1 0 7.00 0a3.50 3.50 0 1 0 -7.00 0M738.2 25.2a3.50 3.50 0 1 0 7.00 0a3.50 3.50 0 1 0 -7.00 0M739.6 25.0a3.50 3.50 0 1 0 7.00 0a3.50 3.50 0 1 0 -7.00 0M741.0 24.7a3.50 3.50 0 1 0 7.00 0a3.50 3.50 0 1 0 -7.00 0M742.4 24.7a3.50 3.50 0 1 0 7.00 0a3.50 3.50 0 1 0 -7.00 0M743.8 24.5a3.50 3.50 0 1 0 7.00 0a3.50 3.50 0 1 0 -7.00 0M745.2 24.5a3.50 3.50 0 1 0 7.00 0a3.50 3.50 0 1 0 -7.00 0M746.6 24.2a3.50 3.50 0 1 0 7.00 0a3.50 3.50 0 1 0 -7.00 0M748.0 24.0a3.50 3.50 0 1 0 7.00 0a3.50 3.50 0 1 0 -7.00 0M749.3 23.7a3.50 3.50 0 1 0 7.00 0a3.50 3.50 0 1 0 -7.00 0M750.7 23.7a3.50 3.50 0 1 0 7.00 0a3.50 3.50 0 1 0 -7.00 0M752.1 23.5a3.50 3.50 0 1 0 7.00 0a3.50 3.50 0 1 0 -7.00 0M753.5 23.4a3.50 3.50 0 1 0 7.00 0a3.50 3.50 0 1 0 -7.00 0M754.9 23.3a3.50 3.50 0 1 0 7.00 0a3.50 3.50 0 1 0 -7.00 0M756.3 23.2a3.50 3.50 0 1 0 7.00 0a3.50 3.50 0 1 0 -7.00 0M757.7 23.0a3.50 3.50 0 1 0 7.00 0a3.50 3.50 0 1 0 -7.00 0M759.1 22.8a3.50 3.50 0 1 0 7.00 0a3.50 3.50 0 1 0 -7.00 0M760.4 22.6a3.50 3.50 0 1 0 7.00 0a3.50 3.50 0 1 0 -7.00 0M761.8 22.6a3.50 3.50 0 1 0 7.00 0a3.50 3.50 0 1 0 -7.00 0M763.2 22.4a3.50 3.50 0 1 0 7.00 0a3.50 3.50 0 1 0 -7.00 0M764.6 22.2a3.50 3.50 0 1 0 7.00 0a3.50 3.50 0 1 0 -7.00 0M766.0 22.0a3.50 3.50 0 1 0 7.00 0a3.50 3.50 0 1 0 -7.00 0M767.4 21.9a3.50 3.50 0 1 0 7.00 0a3.50 3.50 0 1 0 -7.00 0M768.8 21.9a3.50 3.50 0 1 0 7.00 0a3.50 3.50 0 1 0 -7.00 0M770.1 21.8a3.50 3.50 0 1 0 7.00 0a3.50 3.50 0 1 0 -7.00 0M771.5 21.5a3.50 3.50 0 1 0 7.00 0a3.50 3.50 0 1 0 -7.00 0M772.9 21.3a3.50 3.50 0 1 0 7.00 0a3.50 3.50 0 1 0 -7.00 0M774.3 21.2a3.50 3.50 0 1 0 7.00 0a3.50 3.50 0 1 0 -7.00 0M775.7 21.1a3.50 3.50 0 1 0 7.00 0a3.50 3.50 0 1 0 -7.00 0M777.1 21.0a3.50 3.50 0 1 0 7.00 0a3.50 3.50 0 1 0 -7.00 0M778.5 20.8a3.50 3.50 0 1 0 7.00 0a3.50 3.50 0 1 0 -7.00 0M779.9 20.6a3.50 3.50 0 1 0 7.00 0a3.50 3.50 0 1 0 -7.00 0M781.2 20.4a3.50 3.50 0 1 0 7.00 0a3.50 3.50 0 1 0 -7.00 0M782.6 20.3a3.50 3.50 0 1 0 7.00 0a3.50 3.50 0 1 0 -7.00 0"/></g>
<g fill="none" stroke="#ff0000" stroke-width="1.4"><path d="M89.6 484.0h7.80M93.5 480.1v7.80M90.7 481.2l5.52 5.52M90.7 486.8l5.52 -5.52M91.1 476.0h7.80M95.0 472.1v7.80M92.2 473.2l5.52 5.52M92.2 478.8l5.52 -5.52M92.6 470.0h7.80M96.5 466.1v7.80M93.7 467.2l5.52 5.52M93.7 472.8l5.52 -5.52M94.3 393.6h7.80M98.2 389.7v7.80M95.4 390.8l5.52 5.52M95.4 396.4l5.52 -5.52M95.9 393.0h7.80M99.8 389.1v7.80M97.0 390.2l5.52 5.52M97.0 395.8l5.52 -5.52M97.4 393.2h7.80M101.3 389.3v7.80M98.5 390.4l5.52 5.52M98.5 396.0l5.52 -5.52M99.0 393.8h7.80M102.9 389.9v7.80M100.1 391.0l5.52 5.52M100.1 396.6l5.52 -5.52M100.5 394.1h7.80M104.4 390.2v7.80M101.6 391.3l5.52 5.52M101.6 396.9l5.52 -5.52M97.4 380.0h7.80M101.3 376.1v7.80M98.5 377.2l5.52 5.52M98.5 382.8l5.52 -5.52M97.0 384.0h7.80M100.9 380.1v7.80M98.1 381.2l5.52 5.52M98.1 386.8l5.52 -5.52M103.3 385.0h7.80M107.2 381.1v7.80M104.4 382.2l5.52 5.52M104.4 387.8l5.52 -5.52M102.7 368.2h7.80M106.6 364.3v7.80M103.8 365.4l5.52 5.52M103.8 371.0l5.52 -5.52M106.7 366.8h7.80M110.6 362.9v7.80M107.8 364.0l5.52 5.52M107.8 369.6l5.52 -5.52M107.8 375.5h7.80M111.7 371.6v7.80M108.9 372.7l5.52 5.52M108.9 378.3l5.52 -5.52M110.7 379.1h7.80M114.6 375.2v7.80M111.8 376.3l5.52 5.52M111.8 381.9l5.52 -5.52M112.1 372.6h7.80M116.0 368.7v7.80M113.2 369.8l5.52 5.52M113.2 375.4l5.52 -5.52M113.6 368.2h7.80M117.5 364.3v7.80M114.7 365.4l5.52 5.52M114.7 371.0l5.52 -5.52M115.0 376.2h7.80M118.9 372.3v7.80M116.1 373.4l5.52 5.52M116.1 379.0l5.52 -5.52M119.4 371.1h7.80M123.3 367.2v7.80M120.5 368.3l5.52 5.52M120.5 373.9l5.52 -5.52M118.0 363.1h7.80M121.9 359.2v7.80M119.1 360.3l5.52 5.52M119.1 365.9l5.52 -5.52M123.0 362.4h7.80M126.9 358.5v7.80M124.1 359.6l5.52 5.52M124.1 365.2l5.52 -5.52M124.5 354.4h7.80M128.4 350.5v7.80M125.6 351.6l5.52 5.52M125.6 357.2l5.52 -5.52M127.4 350.1h7.80M131.3 346.2v7.80M128.5 347.3l5.52 5.52M128.5 352.9l5.52 -5.52M128.8 347.2h7.80M132.7 343.3v7.80M129.9 344.4l5.52 5.52M129.9 350.0l5.52 -5.52M125.0 354.8h7.80M128.9 350.9v7.80M126.1 352.0l5.52 5.52M126.1 357.6l5.52 -5.52M126.3 350.3h7.80M130.2 346.4v7.80M127.4 347.5l5.52 5.52M127.4 353.1l5.52 -5.52M127.6 347.1h7.80M131.5 343.2v7.80M128.7 344.3l5.52 5.52M128.7 349.9l5.52 -5.52M129.5 338.7h7.80M133.4 334.8v7.80M130.6 335.9l5.52 5.52M130.6 341.5l5.52 -5.52M131.4 333.5h7.80M135.3 329.6v7.80M132.5 330.7l5.52 5.52M132.5 336.3l5.52 -5.52M121.4 304.3h7.80M125.3 300.4v7.80M122.5 301.5l5.52 5.52M122.5 307.1l5.52 -5.52M132.7 318.7h7.80M136.6 314.8v7.80M133.8 315.9l5.52 5.52M133.8 321.5l5.52 -5.52M145.0 290.3h7.80M148.9 286.4v7.80M146.1 287.5l5.52 5.52M146.1 293.1l5.52 -5.52M140.5 293.5h7.80M144.4 289.6v7.80M141.6 290.7l5.52 5.52M141.6 296.3l5.52 -5.52M134.0 321.3h7.80M137.9 317.4v7.80M135.1 318.5l5.52 5.52M135.1 324.1l5.52 -5.52M135.2 316.4h7.80M139.1 312.5v7.80M136.3 313.7l5.52 5.52M136.3 319.2l5.52 -5.52M136.4 311.5h7.80M140.3 307.6v7.80M137.5 308.8l5.52 5.52M137.5 314.3l5.52 -5.52M137.6 306.6h7.80M141.5 302.7v7.80M138.7 303.9l5.52 5.52M138.7 309.4l5.52 -5.52M138.8 301.8h7.80M142.7 297.9v7.80M139.9 299.0l5.52 5.52M139.9 304.5l5.52 -5.52M140.0 296.9h7.80M143.9 293.0v7.80M141.1 294.1l5.52 5.52M141.1 299.6l5.52 -5.52M141.2 292.0h7.80M145.1 288.1v7.80M142.3 289.2l5.52 5.52M142.3 294.7l5.52 -5.52M142.4 287.1h7.80M146.3 283.2v7.80M143.5 284.3l5.52 5.52M143.5 289.9l5.52 -5.52M146.7 275.4h7.80M150.6 271.5v7.80M147.8 272.6l5.52 5.52M147.8 278.1l5.52 -5.52M148.1 271.4h7.80M152.0 267.5v7.80M149.2 268.6l5.52 5.52M149.2 274.2l5.52 -5.52M149.5 264.0h7.80M153.4 260.1v7.80M150.6 261.2l5.52 5.52M150.6 266.7l5.52 -5.52M150.9 261.3h7.80M154.8 257.4v7.80M152.0 258.5l5.52 5.52M152.0 264.0l5.52 -5.52M152.2 258.6h7.80M156.1 254.7v7.80M153.4 255.8l5.52 5.52M153.4 261.3l5.52 -5.52M153.6 261.3h7.80M157.5 257.4v7.80M154.8 258.5l5.52 5.52M154.8 264.0l5.52 -5.52M155.0 262.2h7.80M158.9 258.3v7.80M156.2 259.4l5.52 5.52M156.2 264.9l5.52 -5.52M156.4 262.0h7.80M160.3 258.1v7.80M157.6 259.2l5.52 5.52M157.6 264.8l5.52 -5.52M157.8 263.6h7.80M161.7 259.7v7.80M158.9 260.8l5.52 5.52M158.9 266.3l5.52 -5.52M159.2 263.0h7.80M163.1 259.1v7.80M160.3 260.2l5.52 5.52M160.3 265.8l5.52 -5.52M160.6 263.1h7.80M164.5 259.2v7.80M161.7 260.3l5.52 5.52M161.7 265.8l5.52 -5.52M162.0 263.3h7.80M165.9 259.4v7.80M163.1 260.5l5.52 5.52M163.1 266.1l5.52 -5.52M163.3 263.8h7.80M167.2 259.9v7.80M164.5 261.1l5.52 5.52M164.5 266.6l5.52 -5.52M164.7 263.9h7.80M168.6 260.0v7.80M165.9 261.2l5.52 5.52M165.9 266.7l5.52 -5.52M166.1 264.5h7.80M170.0 260.6v7.80M167.3 261.8l5.52 5.52M167.3 267.3l5.52 -5.52M167.5 264.2h7.80M171.4 260.3v7.80M168.7 261.4l5.52 5.52M168.7 266.9l5.52 -5.52M168.9 264.3h7.80M172.8 260.4v7.80M170.0 261.6l5.52 5.52M170.0 267.1l5.52 -5.52M170.3 263.4h7.80M174.2 259.5v7.80M171.4 260.7l5.52 5.52M171.4 266.2l5.52 -5.52M171.7 261.1h7.80M175.6 257.2v7.80M172.8 258.3l5.52 5.52M172.8 263.8l5.52 -5.52M173.1 259.6h7.80M177.0 255.7v7.80M174.2 256.8l5.52 5.52M174.2 262.4l5.52 -5.52M174.4 260.7h7.80M178.3 256.8v7.80M175.6 257.9l5.52 5.52M175.6 263.4l5.52 -5.52M175.8 260.3h7.80M179.7 256.4v7.80M177.0 257.6l5.52 5.52M177.0 263.1l5.52 -5.52M177.2 258.6h7.80M181.1 254.7v7.80M178.4 255.8l5.52 5.52M178.4 261.4l5.52 -5.52M178.6 257.3h7.80M182.5 253.4v7.80M179.7 254.5l5.52 5.52M179.7 260.0l5.52 -5.52M180.0 258.2h7.80M183.9 254.3v7.80M181.1 255.5l5.52 5.52M181.1 261.0l5.52 -5.52M181.4 259.0h7.80M185.3 255.1v7.80M182.5 256.2l5.52 5.52M182.5 261.7l5.52 -5.52M182.8 256.2h7.80M186.7 252.3v7.80M183.9 253.4l5.52 5.52M183.9 258.9l5.52 -5.52M184.2 258.0h7.80M188.1 254.1v7.80M185.3 255.2l5.52 5.52M185.3 260.8l5.52 -5.52M185.5 258.0h7.80M189.4 254.1v7.80M186.7 255.3l5.52 5.52M186.7 260.8l5.52 -5.52M186.9 258.3h7.80M190.8 254.4v7.80M188.1 255.5l5.52 5.52M188.1 261.1l5.52 -5.52M188.3 260.1h7.80M192.2 256.2v7.80M189.5 257.3l5.52 5.52M189.5 262.8l5.52 -5.52M189.7 260.6h7.80M193.6 256.7v7.80M190.8 257.8l5.52 5.52M190.8 263.4l5.52 -5.52M191.1 263.9h7.80M195.0 260.0v7.80M192.2 261.2l5.52 5.52M192.2 266.7l5.52 -5.52M192.5 266.1h7.80M196.4 262.2v7.80M193.6 263.3l5.52 5.52M193.6 268.9l5.52 -5.52M193.9 266.4h7.80M197.8 262.5v7.80M195.0 263.7l5.52 5.52M195.0 269.2l5.52 -5.52M195.3 266.8h7.80M199.2 262.9v7.80M196.4 264.0l5.52 5.52M196.4 269.5l5.52 -5.52M196.6 266.9h7.80M200.5 263.0v7.80M197.8 264.1l5.52 5.52M197.8 269.6l5.52 -5.52M198.0 267.8h7.80M201.9 263.9v7.80M199.2 265.1l5.52 5.52M199.2 270.6l5.52 -5.52M199.4 268.2h7.80M203.3 264.3v7.80M200.6 265.5l5.52 5.52M200.6 271.0l5.52 -5.52M200.8 272.1h7.80M204.7 268.2v7.80M201.9 269.3l5.52 5.52M201.9 274.8l5.52 -5.52M202.2 272.3h7.80M206.1 268.4v7.80M203.3 269.6l5.52 5.52M203.3 275.1l5.52 -5.52M203.6 273.5h7.80M207.5 269.6v7.80M204.7 270.7l5.52 5.52M204.7 276.2l5.52 -5.52M205.0 277.5h7.80M208.9 273.6v7.80M206.1 274.7l5.52 5.52M206.1 280.2l5.52 -5.52M206.3 281.8h7.80M210.2 277.9v7.80M207.5 279.0l5.52 5.52M207.5 284.6l5.52 -5.52M207.7 285.2h7.80M211.6 281.3v7.80M208.9 282.4l5.52 5.52M208.9 288.0l5.52 -5.52M209.1 283.3h7.80M213.0 279.4v7.80M210.3 280.6l5.52 5.52M210.3 286.1l5.52 -5.52M210.5 284.5h7.80M214.4 280.6v7.80M211.7 281.8l5.52 5.52M211.7 287.3l5.52 -5.52M211.9 281.4h7.80M215.8 277.5v7.80M213.0 278.6l5.52 5.52M213.0 284.1l5.52 -5.52M213.3 279.4h7.80M217.2 275.5v7.80M214.4 276.7l5.52 5.52M214.4 282.2l5.52 -5.52M214.7 278.4h7.80M218.6 274.5v7.80M215.8 275.6l5.52 5.52M215.8 281.1l5.52 -5.52M216.1 277.3h7.80M220.0 273.4v7.80M217.2 274.6l5.52 5.52M217.2 280.1l5.52 -5.52M217.4 275.1h7.80M221.3 271.2v7.80M218.6 272.4l5.52 5.52M218.6 277.9l5.52 -5.52M218.8 271.5h7.80M222.7 267.6v7.80M220.0 268.7l5.52 5.52M220.0 274.2l5.52 -5.52M220.2 269.9h7.80M224.1 266.0v7.80M221.4 267.1l5.52 5.52M221.4 272.6l5.52 -5.52M221.6 267.9h7.80M225.5 264.0v7.80M222.8 265.2l5.52 5.52M222.8 270.7l5.52 -5.52M223.0 266.9h7.80M226.9 263.0v7.80M224.1 264.1l5.52 5.52M224.1 269.7l5.52 -5.52M224.4 265.3h7.80M228.3 261.4v7.80M225.5 262.6l5.52 5.52M225.5 268.1l5.52 -5.52M225.8 263.0h7.80M229.7 259.1v7.80M226.9 260.3l5.52 5.52M226.9 265.8l5.52 -5.52M227.2 261.4h7.80M231.1 257.5v7.80M228.3 258.7l5.52 5.52M228.3 264.2l5.52 -5.52M228.5 261.3h7.80M232.4 257.4v7.80M229.7 258.5l5.52 5.52M229.7 264.0l5.52 -5.52M229.9 258.8h7.80M233.8 254.9v7.80M231.1 256.1l5.52 5.52M231.1 261.6l5.52 -5.52M231.3 258.8h7.80M235.2 254.9v7.80M232.5 256.0l5.52 5.52M232.5 261.5l5.52 -5.52M232.7 257.2h7.80M236.6 253.3v7.80M233.8 254.4l5.52 5.52M233.8 259.9l5.52 -5.52M234.1 255.8h7.80M238.0 251.9v7.80M235.2 253.0l5.52 5.52M235.2 258.6l5.52 -5.52M235.5 254.9h7.80M239.4 251.0v7.80M236.6 252.1l5.52 5.52M236.6 257.6l5.52 -5.52M236.9 253.7h7.80M240.8 249.8v7.80M238.0 251.0l5.52 5.52M238.0 256.5l5.52 -5.52M238.3 252.7h7.80M242.2 248.8v7.80M239.4 249.9l5.52 5.52M239.4 255.5l5.52 -5.52M239.6 251.9h7.80M243.5 248.0v7.80M240.8 249.1l5.52 5.52M240.8 254.6l5.52 -5.52M241.0 250.2h7.80M244.9 246.3v7.80M242.2 247.4l5.52 5.52M242.2 252.9l5.52 -5.52M242.4 249.0h7.80M246.3 245.1v7.80M243.6 246.3l5.52 5.52M243.6 251.8l5.52 -5.52M243.8 248.4h7.80M247.7 244.5v7.80M244.9 245.6l5.52 5.52M244.9 251.2l5.52 -5.52M245.2 247.2h7.80M249.1 243.3v7.80M246.3 244.5l5.52 5.52M246.3 250.0l5.52 -5.52M246.6 246.3h7.80M250.5 242.4v7.80M247.7 243.5l5.52 5.52M247.7 249.0l5.52 -5.52M248.0 245.3h7.80M251.9 241.4v7.80M249.1 242.5l5.52 5.52M249.1 248.1l5.52 -5.52M249.4 244.1h7.80M253.3 240.2v7.80M250.5 241.3l5.52 5.52M250.5 246.9l5.52 -5.52M250.7 243.3h7.80M254.6 239.4v7.80M251.9 240.5l5.52 5.52M251.9 246.1l5.52 -5.52M252.1 241.8h7.80M256.0 237.9v7.80M253.3 239.1l5.52 5.52M253.3 244.6l5.52 -5.52M253.5 241.0h7.80M257.4 237.1v7.80M254.7 238.3l5.52 5.52M254.7 243.8l5.52 -5.52M254.9 239.8h7.80M258.8 235.9v7.80M256.0 237.0l5.52 5.52M256.0 242.5l5.52 -5.52M256.3 238.8h7.80M260.2 234.9v7.80M257.4 236.1l5.52 5.52M257.4 241.6l5.52 -5.52M257.7 238.4h7.80M261.6 234.5v7.80M258.8 235.7l5.52 5.52M258.8 241.2l5.52 -5.52M259.1 237.6h7.80M263.0 233.7v7.80M260.2 234.8l5.52 5.52M260.2 240.4l5.52 -5.52M260.5 236.2h7.80M264.4 232.3v7.80M261.6 233.5l5.52 5.52M261.6 239.0l5.52 -5.52M261.8 235.5h7.80M265.7 231.6v7.80M263.0 232.7l5.52 5.52M263.0 238.3l5.52 -5.52M263.2 235.0h7.80M267.1 231.1v7.80M264.4 232.3l5.52 5.52M264.4 237.8l5.52 -5.52M264.6 234.4h7.80M268.5 230.5v7.80M265.8 231.6l5.52 5.52M265.8 237.1l5.52 -5.52M266.0 233.1h7.80M269.9 229.2v7.80M267.1 230.4l5.52 5.52M267.1 235.9l5.52 -5.52M267.4 232.6h7.80M271.3 228.7v7.80M268.5 229.9l5.52 5.52M268.5 235.4l5.52 -5.52M268.8 231.8h7.80M272.7 227.9v7.80M269.9 229.0l5.52 5.52M269.9 234.5l5.52 -5.52M270.2 232.0h7.80M274.1 228.1v7.80M271.3 229.2l5.52 5.52M271.3 234.7l5.52 -5.52M271.5 231.1h7.80M275.4 227.2v7.80M272.7 228.4l5.52 5.52M272.7 233.9l5.52 -5.52M272.9 230.7h7.80M276.8 226.8v7.80M274.1 227.9l5.52 5.52M274.1 233.4l5.52 -5.52M274.3 230.1h7.80M278.2 226.2v7.80M275.5 227.3l5.52 5.52M275.5 232.8l5.52 -5.52M275.7 229.6h7.80M279.6 225.7v7.80M276.9 226.8l5.52 5.52M276.9 232.3l5.52 -5.52M277.1 229.0h7.80M281.0 225.1v7.80M278.2 226.2l5.52 5.52M278.2 231.7l5.52 -5.52M278.5 228.4h7.80M282.4 224.5v7.80M279.6 225.7l5.52 5.52M279.6 231.2l5.52 -5.52M279.9 228.5h7.80M283.8 224.6v7.80M281.0 225.8l5.52 5.52M281.0 231.3l5.52 -5.52M281.3 228.2h7.80M285.2 224.3v7.80M282.4 225.5l5.52 5.52M282.4 231.0l5.52 -5.52M282.6 228.4h7.80M286.5 224.5v7.80M283.8 225.6l5.52 5.52M283.8 231.1l5.52 -5.52M284.0 227.7h7.80M287.9 223.8v7.80M285.2 225.0l5.52 5.52M285.2 230.5l5.52 -5.52M285.4 227.6h7.80M289.3 223.7v7.80M286.6 224.9l5.52 5.52M286.6 230.4l5.52 -5.52M286.8 227.8h7.80M290.7 223.9v7.80M287.9 225.1l5.52 5.52M287.9 230.6l5.52 -5.52M288.2 227.9h7.80M292.1 224.0v7.80M289.3 225.1l5.52 5.52M289.3 230.7l5.52 -5.52M289.6 227.5h7.80M293.5 223.6v7.80M290.7 224.8l5.52 5.52M290.7 230.3l5.52 -5.52M291.0 227.2h7.80M294.9 223.3v7.80M292.1 224.5l5.52 5.52M292.1 230.0l5.52 -5.52M292.4 227.3h7.80M296.3 223.4v7.80M293.5 224.5l5.52 5.52M293.5 230.1l5.52 -5.52M293.7 227.1h7.80M297.6 223.2v7.80M294.9 224.4l5.52 5.52M294.9 229.9l5.52 -5.52M295.1 227.6h7.80M299.0 223.7v7.80M296.3 224.8l5.52 5.52M296.3 230.3l5.52 -5.52M296.5 227.3h7.80M300.4 223.4v7.80M297.7 224.5l5.52 5.52M297.7 230.1l5.52 -5.52M297.9 227.3h7.80M301.8 223.4v7.80M299.0 224.6l5.52 5.52M299.0 230.1l5.52 -5.52M299.3 227.0h7.80M303.2 223.1v7.80M300.4 224.2l5.52 5.52M300.4 229.7l5.52 -5.52M300.7 226.7h7.80M304.6 222.8v7.80M301.8 223.9l5.52 5.52M301.8 229.4l5.52 -5.52M302.1 227.0h7.80M306.0 223.1v7.80M303.2 224.3l5.52 5.52M303.2 229.8l5.52 -5.52M303.5 227.1h7.80M307.4 223.2v7.80M304.6 224.3l5.52 5.52M304.6 229.8l5.52 -5.52M304.8 226.7h7.80M308.7 222.8v7.80M306.0 224.0l5.52 5.52M306.0 229.5l5.52 -5.52M306.2 226.5h7.80M310.1 222.6v7.80M307.4 223.7l5.52 5.52M307.4 229.2l5.52 -5.52M307.6 226.7h7.80M311.5 222.8v7.80M308.8 223.9l5.52 5.52M308.8 229.4l5.52 -5.52M309.0 226.2h7.80M312.9 222.3v7.80M310.1 223.5l5.52 5.52M310.1 229.0l5.52 -5.52M310.4 226.4h7.80M314.3 222.5v7.80M311.5 223.7l5.52 5.52M311.5 229.2l5.52 -5.52M311.8 226.0h7.80M315.7 222.1v7.80M312.9 223.2l5.52 5.52M312.9 228.7l5.52 -5.52M313.2 225.8h7.80M317.1 221.9v7.80M314.3 223.1l5.52 5.52M314.3 228.6l5.52 -5.52M314.6 226.1h7.80M318.5 222.2v7.80M315.7 223.4l5.52 5.52M315.7 228.9l5.52 -5.52M315.9 226.0h7.80M319.8 222.1v7.80M317.1 223.2l5.52 5.52M317.1 228.8l5.52 -5.52M317.3 226.2h7.80M321.2 222.3v7.80M318.5 223.5l5.52 5.52M318.5 229.0l5.52 -5.52M318.7 225.7h7.80M322.6 221.8v7.80M319.9 222.9l5.52 5.52M319.9 228.4l5.52 -5.52M320.1 225.7h7.80M324.0 221.8v7.80M321.2 222.9l5.52 5.52M321.2 228.4l5.52 -5.52M321.5 225.3h7.80M325.4 221.4v7.80M322.6 222.5l5.52 5.52M322.6 228.0l5.52 -5.52M322.9 225.1h7.80M326.8 221.2v7.80M324.0 222.3l5.52 5.52M324.0 227.9l5.52 -5.52M324.3 225.0h7.80M328.2 221.1v7.80M325.4 222.3l5.52 5.52M325.4 227.8l5.52 -5.52M325.6 225.4h7.80M329.5 221.5v7.80M326.8 222.7l5.52 5.52M326.8 228.2l5.52 -5.52M327.0 224.9h7.80M330.9 221.0v7.80M328.2 222.2l5.52 5.52M328.2 227.7l5.52 -5.52M328.4 225.4h7.80M332.3 221.5v7.80M329.6 222.7l5.52 5.52M329.6 228.2l5.52 -5.52M329.8 225.4h7.80M333.7 221.5v7.80M331.0 222.7l5.52 5.52M331.0 228.2l5.52 -5.52M331.2 224.9h7.80M335.1 221.0v7.80M332.3 222.2l5.52 5.52M332.3 227.7l5.52 -5.52M332.6 225.3h7.80M336.5 221.4v7.80M333.7 222.6l5.52 5.52M333.7 228.1l5.52 -5.52M334.0 224.9h7.80M337.9 221.0v7.80M335.1 222.1l5.52 5.52M335.1 227.6l5.52 -5.52M335.4 225.0h7.80M339.3 221.1v7.80M336.5 222.3l5.52 5.52M336.5 227.8l5.52 -5.52M336.7 224.6h7.80M340.6 220.7v7.80M337.9 221.8l5.52 5.52M337.9 227.4l5.52 -5.52M338.1 224.8h7.80M342.0 220.9v7.80M339.3 222.1l5.52 5.52M339.3 227.6l5.52 -5.52M339.5 224.3h7.80M343.4 220.4v7.80M340.7 221.5l5.52 5.52M340.7 227.0l5.52 -5.52M340.9 224.6h7.80M344.8 220.7v7.80M342.1 221.8l5.52 5.52M342.1 227.3l5.52 -5.52M342.3 224.2h7.80M346.2 220.3v7.80M343.4 221.5l5.52 5.52M343.4 227.0l5.52 -5.52M343.7 224.2h7.80M347.6 220.3v7.80M344.8 221.5l5.52 5.52M344.8 227.0l5.52 -5.52M345.1 224.3h7.80M349.0 220.4v7.80M346.2 221.6l5.52 5.52M346.2 227.1l5.52 -5.52M346.5 224.1h7.80M350.4 220.2v7.80M347.6 221.4l5.52 5.52M347.6 226.9l5.52 -5.52M347.8 224.0h7.80M351.7 220.1v7.80M349.0 221.2l5.52 5.52M349.0 226.7l5.52 -5.52M349.2 224.1h7.80M353.1 220.2v7.80M350.4 221.3l5.52 5.52M350.4 226.9l5.52 -5.52M350.6 224.0h7.80M354.5 220.1v7.80M351.8 221.3l5.52 5.52M351.8 226.8l5.52 -5.52M352.0 223.4h7.80M355.9 219.5v7.80M353.1 220.6l5.52 5.52M353.1 226.2l5.52 -5.52M353.4 223.8h7.80M357.3 219.9v7.80M354.5 221.0l5.52 5.52M354.5 226.6l5.52 -5.52M354.8 223.7h7.80M358.7 219.8v7.80M355.9 221.0l5.52 5.52M355.9 226.5l5.52 -5.52M356.2 223.3h7.80M360.1 219.4v7.80M357.3 220.6l5.52 5.52M357.3 226.1l5.52 -5.52M357.6 223.5h7.80M361.5 219.6v7.80M358.7 220.8l5.52 5.52M358.7 226.3l5.52 -5.52M358.9 223.0h7.80M362.8 219.1v7.80M360.1 220.2l5.52 5.52M360.1 225.8l5.52 -5.52M360.3 223.6h7.80M364.2 219.7v7.80M361.5 220.8l5.52 5.52M361.5 226.4l5.52 -5.52M361.7 223.1h7.80M365.6 219.2v7.80M362.9 220.3l5.52 5.52M362.9 225.9l5.52 -5.52M363.1 223.1h7.80M367.0 219.2v7.80M364.2 220.3l5.52 5.52M364.2 225.8l5.52 -5.52M364.5 223.3h7.80M368.4 219.4v7.80M365.6 220.5l5.52 5.52M365.6 226.1l5.52 -5.52M365.9 222.9h7.80M369.8 219.0v7.80M367.0 220.1l5.52 5.52M367.0 225.6l5.52 -5.52M367.3 223.0h7.80M371.2 219.1v7.80M368.4 220.2l5.52 5.52M368.4 225.7l5.52 -5.52M368.7 222.4h7.80M372.6 218.5v7.80M369.8 219.7l5.52 5.52M369.8 225.2l5.52 -5.52M370.0 222.4h7.80M373.9 218.5v7.80M371.2 219.7l5.52 5.52M371.2 225.2l5.52 -5.52M371.4 222.1h7.80M375.3 218.2v7.80M372.6 219.3l5.52 5.52M372.6 224.9l5.52 -5.52M372.8 222.3h7.80M376.7 218.4v7.80M374.0 219.5l5.52 5.52M374.0 225.0l5.52 -5.52M374.2 222.5h7.80M378.1 218.6v7.80M375.3 219.7l5.52 5.52M375.3 225.2l5.52 -5.52M375.6 222.2h7.80M379.5 218.3v7.80M376.7 219.4l5.52 5.52M376.7 224.9l5.52 -5.52M377.0 222.2h7.80M380.9 218.3v7.80M378.1 219.4l5.52 5.52M378.1 225.0l5.52 -5.52M378.4 221.6h7.80M382.3 217.7v7.80M379.5 218.9l5.52 5.52M379.5 224.4l5.52 -5.52M379.7 221.5h7.80M383.6 217.6v7.80M380.9 218.8l5.52 5.52M380.9 224.3l5.52 -5.52M381.1 221.5h7.80M385.0 217.6v7.80M382.3 218.8l5.52 5.52M382.3 224.3l5.52 -5.52M382.5 221.7h7.80M386.4 217.8v7.80M383.7 218.9l5.52 5.52M383.7 224.4l5.52 -5.52M383.9 221.5h7.80M387.8 217.6v7.80M385.1 218.7l5.52 5.52M385.1 224.3l5.52 -5.52M385.3 221.3h7.80M389.2 217.4v7.80M386.4 218.5l5.52 5.52M386.4 224.0l5.52 -5.52M386.7 221.3h7.80M390.6 217.4v7.80M387.8 218.6l5.52 5.52M387.8 224.1l5.52 -5.52M388.1 221.0h7.80M392.0 217.1v7.80M389.2 218.3l5.52 5.52M389.2 223.8l5.52 -5.52M389.5 220.9h7.80M393.4 217.0v7.80M390.6 218.2l5.52 5.52M390.6 223.7l5.52 -5.52M390.8 221.1h7.80M394.7 217.2v7.80M392.0 218.4l5.52 5.52M392.0 223.9l5.52 -5.52M392.2 220.6h7.80M396.1 216.7v7.80M393.4 217.8l5.52 5.52M393.4 223.3l5.52 -5.52M393.6 220.6h7.80M397.5 216.7v7.80M394.8 217.9l5.52 5.52M394.8 223.4l5.52 -5.52M395.0 220.9h7.80M398.9 217.0v7.80M396.2 218.1l5.52 5.52M396.2 223.6l5.52 -5.52M396.4 220.4h7.80M400.3 216.5v7.80M397.5 217.6l5.52 5.52M397.5 223.1l5.52 -5.52M397.8 220.4h7.80M401.7 216.5v7.80M398.9 217.7l5.52 5.52M398.9 223.2l5.52 -5.52M399.2 220.0h7.80M403.1 216.1v7.80M400.3 217.2l5.52 5.52M400.3 222.7l5.52 -5.52M400.6 220.4h7.80M404.5 216.5v7.80M401.7 217.6l5.52 5.52M401.7 223.2l5.52 -5.52M401.9 219.5h7.80M405.8 215.6v7.80M403.1 216.7l5.52 5.52M403.1 222.2l5.52 -5.52M403.3 219.5h7.80M407.2 215.6v7.80M404.5 216.7l5.52 5.52M404.5 222.2l5.52 -5.52M404.7 219.4h7.80M408.6 215.5v7.80M405.9 216.6l5.52 5.52M405.9 222.2l5.52 -5.52M406.1 219.9h7.80M410.0 216.0v7.80M407.2 217.2l5.52 5.52M407.2 222.7l5.52 -5.52M407.5 219.5h7.80M411.4 215.6v7.80M408.6 216.8l5.52 5.52M408.6 222.3l5.52 -5.52M408.9 219.2h7.80M412.8 215.3v7.80M410.0 216.5l5.52 5.52M410.0 222.0l5.52 -5.52M410.3 218.9h7.80M414.2 215.0v7.80M411.4 216.1l5.52 5.52M411.4 221.6l5.52 -5.52M411.7 219.2h7.80M415.6 215.3v7.80M412.8 216.4l5.52 5.52M412.8 221.9l5.52 -5.52M413.0 219.0h7.80M416.9 215.1v7.80M414.2 216.2l5.52 5.52M414.2 221.7l5.52 -5.52M414.4 218.7h7.80M418.3 214.8v7.80M415.6 215.9l5.52 5.52M415.6 221.4l5.52 -5.52M415.8 218.4h7.80M419.7 214.5v7.80M417.0 215.6l5.52 5.52M417.0 221.1l5.52 -5.52M417.2 218.3h7.80M421.1 214.4v7.80M418.3 215.6l5.52 5.52M418.3 221.1l5.52 -5.52M418.6 218.5h7.80M422.5 214.6v7.80M419.7 215.8l5.52 5.52M419.7 221.3l5.52 -5.52M420.0 218.4h7.80M423.9 214.5v7.80M421.1 215.7l5.52 5.52M421.1 221.2l5.52 -5.52M421.4 218.2h7.80M425.3 214.3v7.80M422.5 215.5l5.52 5.52M422.5 221.0l5.52 -5.52M422.8 218.0h7.80M426.7 214.1v7.80M423.9 215.3l5.52 5.52M423.9 220.8l5.52 -5.52M424.1 217.6h7.80M428.0 213.7v7.80M425.3 214.8l5.52 5.52M425.3 220.3l5.52 -5.52M425.5 217.8h7.80M429.4 213.9v7.80M426.7 215.1l5.52 5.52M426.7 220.6l5.52 -5.52M426.9 217.4h7.80M430.8 213.5v7.80M428.1 214.7l5.52 5.52M428.1 220.2l5.52 -5.52M428.3 217.6h7.80M432.2 213.7v7.80M429.4 214.8l5.52 5.52M429.4 220.3l5.52 -5.52M429.7 217.6h7.80M433.6 213.7v7.80M430.8 214.8l5.52 5.52M430.8 220.3l5.52 -5.52M431.1 217.1h7.80M435.0 213.2v7.80M432.2 214.4l5.52 5.52M432.2 219.9l5.52 -5.52M432.5 216.9h7.80M436.4 213.0v7.80M433.6 214.2l5.52 5.52M433.6 219.7l5.52 -5.52M433.9 217.3h7.80M437.8 213.4v7.80M435.0 214.5l5.52 5.52M435.0 220.1l5.52 -5.52M435.2 217.0h7.80M439.1 213.1v7.80M436.4 214.3l5.52 5.52M436.4 219.8l5.52 -5.52M436.6 216.6h7.80M440.5 212.7v7.80M437.8 213.9l5.52 5.52M437.8 219.4l5.52 -5.52M438.0 216.3h7.80M441.9 212.4v7.80M439.2 213.5l5.52 5.52M439.2 219.0l5.52 -5.52M439.4 216.5h7.80M443.3 212.6v7.80M440.5 213.8l5.52 5.52M440.5 219.3l5.52 -5.52M440.8 216.6h7.80M444.7 212.7v7.80M441.9 213.8l5.52 5.52M441.9 219.3l5.52 -5.52M442.2 216.6h7.80M446.1 212.7v7.80M443.3 213.8l5.52 5.52M443.3 219.3l5.52 -5.52M443.6 216.0h7.80M447.5 212.1v7.80M444.7 213.2l5.52 5.52M444.7 218.7l5.52 -5.52M444.9 215.9h7.80M448.8 212.0v7.80M446.1 213.1l5.52 5.52M446.1 218.6l5.52 -5.52M446.3 215.8h7.80M450.2 211.9v7.80M447.5 213.0l5.52 5.52M447.5 218.6l5.52 -5.52M447.7 216.0h7.80M451.6 212.1v7.80M448.9 213.2l5.52 5.52M448.9 218.7l5.52 -5.52M449.1 215.4h7.80M453.0 211.5v7.80M450.3 212.6l5.52 5.52M450.3 218.1l5.52 -5.52M450.5 215.5h7.80M454.4 211.6v7.80M451.6 212.7l5.52 5.52M451.6 218.2l5.52 -5.52M451.9 215.2h7.80M455.8 211.3v7.80M453.0 212.4l5.52 5.52M453.0 217.9l5.52 -5.52M453.3 215.3h7.80M457.2 211.4v7.80M454.4 212.6l5.52 5.52M454.4 218.1l5.52 -5.52M454.7 214.7h7.80M458.6 210.8v7.80M455.8 212.0l5.52 5.52M455.8 217.5l5.52 -5.52M456.0 215.1h7.80M459.9 211.2v7.80M457.2 212.3l5.52 5.52M457.2 217.9l5.52 -5.52M457.4 214.8h7.80M461.3 210.9v7.80M458.6 212.0l5.52 5.52M458.6 217.5l5.52 -5.52M458.8 214.7h7.80M462.7 210.8v7.80M460.0 211.9l5.52 5.52M460.0 217.5l5.52 -5.52M460.2 214.8h7.80M464.1 210.9v7.80M461.3 212.0l5.52 5.52M461.3 217.5l5.52 -5.52M461.6 214.8h7.80M465.5 210.9v7.80M462.7 212.0l5.52 5.52M462.7 217.5l5.52 -5.52M463.0 214.0h7.80M466.9 210.1v7.80M464.1 211.2l5.52 5.52M464.1 216.7l5.52 -5.52M464.4 214.5h7.80M468.3 210.6v7.80M465.5 211.7l5.52 5.52M465.5 217.2l5.52 -5.52M465.8 214.2h7.80M469.7 210.3v7.80M466.9 211.5l5.52 5.52M466.9 217.0l5.52 -5.52M467.1 213.9h7.80M471.0 210.0v7.80M468.3 211.1l5.52 5.52M468.3 216.7l5.52 -5.52M468.5 214.2h7.80M472.4 210.3v7.80M469.7 211.4l5.52 5.52M469.7 217.0l5.52 -5.52M469.9 213.8h7.80M473.8 209.9v7.80M471.1 211.0l5.52 5.52M471.1 216.5l5.52 -5.52M471.3 213.9h7.80M475.2 210.0v7.80M472.4 211.2l5.52 5.52M472.4 216.7l5.52 -5.52M472.7 213.3h7.80M476.6 209.4v7.80M473.8 210.6l5.52 5.52M473.8 216.1l5.52 -5.52M474.1 213.1h7.80M478.0 209.2v7.80M475.2 210.4l5.52 5.52M475.2 215.9l5.52 -5.52M475.5 213.5h7.80M479.4 209.6v7.80M476.6 210.8l5.52 5.52M476.6 216.3l5.52 -5.52M476.9 213.5h7.80M480.8 209.6v7.80M478.0 210.7l5.52 5.52M478.0 216.2l5.52 -5.52M478.2 213.1h7.80M482.1 209.2v7.80M479.4 210.4l5.52 5.52M479.4 215.9l5.52 -5.52M479.6 213.0h7.80M483.5 209.1v7.80M480.8 210.3l5.52 5.52M480.8 215.8l5.52 -5.52M481.0 212.6h7.80M484.9 208.7v7.80M482.2 209.8l5.52 5.52M482.2 215.3l5.52 -5.52M482.4 212.2h7.80M486.3 208.3v7.80M483.5 209.5l5.52 5.52M483.5 215.0l5.52 -5.52M483.8 212.4h7.80M487.7 208.5v7.80M484.9 209.6l5.52 5.52M484.9 215.1l5.52 -5.52M485.2 212.7h7.80M489.1 208.8v7.80M486.3 209.9l5.52 5.52M486.3 215.4l5.52 -5.52M486.6 211.8h7.80M490.5 207.9v7.80M487.7 209.0l5.52 5.52M487.7 214.5l5.52 -5.52M488.0 211.9h7.80M491.9 208.0v7.80M489.1 209.2l5.52 5.52M489.1 214.7l5.52 -5.52M489.3 211.5h7.80M493.2 207.6v7.80M490.5 208.8l5.52 5.52M490.5 214.3l5.52 -5.52M490.7 211.8h7.80M494.6 207.9v7.80M491.9 209.1l5.52 5.52M491.9 214.6l5.52 -5.52M492.1 211.9h7.80M496.0 208.0v7.80M493.3 209.1l5.52 5.52M493.3 214.6l5.52 -5.52M493.5 211.2h7.80M497.4 207.3v7.80M494.6 208.5l5.52 5.52M494.6 214.0l5.52 -5.52M494.9 211.3h7.80M498.8 207.4v7.80M496.0 208.6l5.52 5.52M496.0 214.1l5.52 -5.52M496.3 211.6h7.80M500.2 207.7v7.80M497.4 208.9l5.52 5.52M497.4 214.4l5.52 -5.52M497.7 211.1h7.80M501.6 207.2v7.80M498.8 208.3l5.52 5.52M498.8 213.9l5.52 -5.52M499.0 210.7h7.80M502.9 206.8v7.80M500.2 207.9l5.52 5.52M500.2 213.4l5.52 -5.52M500.4 210.5h7.80M504.3 206.6v7.80M501.6 207.7l5.52 5.52M501.6 213.3l5.52 -5.52M501.8 210.3h7.80M505.7 206.4v7.80M503.0 207.5l5.52 5.52M503.0 213.0l5.52 -5.52M503.2 210.7h7.80M507.1 206.8v7.80M504.4 208.0l5.52 5.52M504.4 213.5l5.52 -5.52M504.6 210.2h7.80M508.5 206.3v7.80M505.7 207.4l5.52 5.52M505.7 212.9l5.52 -5.52M506.0 210.5h7.80M509.9 206.6v7.80M507.1 207.7l5.52 5.52M507.1 213.2l5.52 -5.52M507.4 210.3h7.80M511.3 206.4v7.80M508.5 207.5l5.52 5.52M508.5 213.0l5.52 -5.52M508.8 209.7h7.80M512.7 205.8v7.80M509.9 207.0l5.52 5.52M509.9 212.5l5.52 -5.52M510.1 209.6h7.80M514.0 205.7v7.80M511.3 206.9l5.52 5.52M511.3 212.4l5.52 -5.52M511.5 209.8h7.80M515.4 205.9v7.80M512.7 207.0l5.52 5.52M512.7 212.6l5.52 -5.52M512.9 209.5h7.80M516.8 205.6v7.80M514.1 206.7l5.52 5.52M514.1 212.2l5.52 -5.52M514.3 209.4h7.80M518.2 205.5v7.80M515.5 206.6l5.52 5.52M515.5 212.1l5.52 -5.52M515.7 208.7h7.80M519.6 204.8v7.80M516.8 206.0l5.52 5.52M516.8 211.5l5.52 -5.52M517.1 209.2h7.80M521.0 205.3v7.80M518.2 206.5l5.52 5.52M518.2 212.0l5.52 -5.52M518.5 208.6h7.80M522.4 204.7v7.80M519.6 205.9l5.52 5.52M519.6 211.4l5.52 -5.52M519.9 208.3h7.80M523.8 204.4v7.80M521.0 205.5l5.52 5.52M521.0 211.0l5.52 -5.52M521.2 208.4h7.80M525.1 204.5v7.80M522.4 205.6l5.52 5.52M522.4 211.1l5.52 -5.52M522.6 208.5h7.80M526.5 204.6v7.80M523.8 205.7l5.52 5.52M523.8 211.2l5.52 -5.52M524.0 208.6h7.80M527.9 204.7v7.80M525.2 205.9l5.52 5.52M525.2 211.4l5.52 -5.52M525.4 208.0h7.80M529.3 204.1v7.80M526.5 205.2l5.52 5.52M526.5 210.7l5.52 -5.52M526.8 207.6h7.80M530.7 203.7v7.80M527.9 204.8l5.52 5.52M527.9 210.3l5.52 -5.52M528.2 208.2h7.80M532.1 204.3v7.80M529.3 205.4l5.52 5.52M529.3 210.9l5.52 -5.52M529.6 207.7h7.80M533.5 203.8v7.80M530.7 204.9l5.52 5.52M530.7 210.4l5.52 -5.52M531.0 207.4h7.80M534.9 203.5v7.80M532.1 204.6l5.52 5.52M532.1 210.2l5.52 -5.52M532.3 207.0h7.80M536.2 203.1v7.80M533.5 204.3l5.52 5.52M533.5 209.8l5.52 -5.52M533.7 206.9h7.80M537.6 203.0v7.80M534.9 204.2l5.52 5.52M534.9 209.7l5.52 -5.52M535.1 207.4h7.80M539.0 203.5v7.80M536.3 204.6l5.52 5.52M536.3 210.1l5.52 -5.52M536.5 206.8h7.80M540.4 202.9v7.80M537.6 204.0l5.52 5.52M537.6 209.5l5.52 -5.52M537.9 206.6h7.80M541.8 202.7v7.80M539.0 203.8l5.52 5.52M539.0 209.3l5.52 -5.52M539.3 206.4h7.80M543.2 202.5v7.80M540.4 203.7l5.52 5.52M540.4 209.2l5.52 -5.52M540.7 206.8h7.80M544.6 202.9v7.80M541.8 204.0l5.52 5.52M541.8 209.5l5.52 -5.52M542.1 206.1h7.80M546.0 202.2v7.80M543.2 203.3l5.52 5.52M543.2 208.9l5.52 -5.52M543.4 206.2h7.80M547.3 202.3v7.80M544.6 203.5l5.52 5.52M544.6 209.0l5.52 -5.52M544.8 206.0h7.80M548.7 202.1v7.80M546.0 203.2l5.52 5.52M546.0 208.8l5.52 -5.52M546.2 205.8h7.80M550.1 201.9v7.80M547.4 203.1l5.52 5.52M547.4 208.6l5.52 -5.52M547.6 205.4h7.80M551.5 201.5v7.80M548.7 202.7l5.52 5.52M548.7 208.2l5.52 -5.52M549.0 205.6h7.80M552.9 201.7v7.80M550.1 202.9l5.52 5.52M550.1 208.4l5.52 -5.52M550.4 205.7h7.80M554.3 201.8v7.80M551.5 203.0l5.52 5.52M551.5 208.5l5.52 -5.52M551.8 205.2h7.80M555.7 201.3v7.80M552.9 202.4l5.52 5.52M552.9 207.9l5.52 -5.52M553.1 204.8h7.80M557.0 200.9v7.80M554.3 202.0l5.52 5.52M554.3 207.6l5.52 -5.52M554.5 204.5h7.80M558.4 200.6v7.80M555.7 201.8l5.52 5.52M555.7 207.3l5.52 -5.52M555.9 204.8h7.80M559.8 200.9v7.80M557.1 202.0l5.52 5.52M557.1 207.5l5.52 -5.52M557.3 204.5h7.80M561.2 200.6v7.80M558.5 201.7l5.52 5.52M558.5 207.2l5.52 -5.52M558.7 204.4h7.80M562.6 200.5v7.80M559.8 201.6l5.52 5.52M559.8 207.1l5.52 -5.52M560.1 204.2h7.80M564.0 200.3v7.80M561.2 201.5l5.52 5.52M561.2 207.0l5.52 -5.52M561.5 203.7h7.80M565.4 199.8v7.80M562.6 200.9l5.52 5.52M562.6 206.4l5.52 -5.52M562.9 204.1h7.80M566.8 200.2v7.80M564.0 201.3l5.52 5.52M564.0 206.8l5.52 -5.52M564.2 203.8h7.80M568.1 199.9v7.80M565.4 201.0l5.52 5.52M565.4 206.5l5.52 -5.52M565.6 203.5h7.80M569.5 199.6v7.80M566.8 200.8l5.52 5.52M566.8 206.3l5.52 -5.52M567.0 203.4h7.80M570.9 199.5v7.80M568.2 200.7l5.52 5.52M568.2 206.2l5.52 -5.52M568.4 203.4h7.80M572.3 199.5v7.80M569.6 200.7l5.52 5.52M569.6 206.2l5.52 -5.52M569.8 203.1h7.80M573.7 199.2v7.80M570.9 200.3l5.52 5.52M570.9 205.8l5.52 -5.52M571.2 202.7h7.80M575.1 198.8v7.80M572.3 199.9l5.52 5.52M572.3 205.4l5.52 -5.52M572.6 203.0h7.80M576.5 199.1v7.80M573.7 200.2l5.52 5.52M573.7 205.8l5.52 -5.52M574.0 202.4h7.80M577.9 198.5v7.80M575.1 199.7l5.52 5.52M575.1 205.2l5.52 -5.52M575.3 202.2h7.80M579.2 198.3v7.80M576.5 199.4l5.52 5.52M576.5 204.9l5.52 -5.52M576.7 201.8h7.80M580.6 197.9v7.80M577.9 199.1l5.52 5.52M577.9 204.6l5.52 -5.52M578.1 202.0h7.80M582.0 198.1v7.80M579.3 199.3l5.52 5.52M579.3 204.8l5.52 -5.52M579.5 201.6h7.80M583.4 197.7v7.80M580.6 198.8l5.52 5.52M580.6 204.4l5.52 -5.52M580.9 201.6h7.80M584.8 197.7v7.80M582.0 198.8l5.52 5.52M582.0 204.3l5.52 -5.52M582.3 201.6h7.80M586.2 197.7v7.80M583.4 198.9l5.52 5.52M583.4 204.4l5.52 -5.52M583.7 201.4h7.80M587.6 197.5v7.80M584.8 198.6l5.52 5.52M584.8 204.1l5.52 -5.52M585.1 201.4h7.80M589.0 197.5v7.80M586.2 198.7l5.52 5.52M586.2 204.2l5.52 -5.52M586.4 201.1h7.80M590.3 197.2v7.80M587.6 198.3l5.52 5.52M587.6 203.9l5.52 -5.52M587.8 200.8h7.80M591.7 196.9v7.80M589.0 198.0l5.52 5.52M589.0 203.5l5.52 -5.52M589.2 200.6h7.80M593.1 196.7v7.80M590.4 197.8l5.52 5.52M590.4 203.4l5.52 -5.52M590.6 200.4h7.80M594.5 196.5v7.80M591.7 197.6l5.52 5.52M591.7 203.1l5.52 -5.52M592.0 200.5h7.80M595.9 196.6v7.80M593.1 197.8l5.52 5.52M593.1 203.3l5.52 -5.52M593.4 200.2h7.80M597.3 196.3v7.80M594.5 197.4l5.52 5.52M594.5 202.9l5.52 -5.52M594.8 199.9h7.80M598.7 196.0v7.80M595.9 197.2l5.52 5.52M595.9 202.7l5.52 -5.52M596.2 200.1h7.80M600.1 196.2v7.80M597.3 197.3l5.52 5.52M597.3 202.8l5.52 -5.52M597.5 199.7h7.80M601.4 195.8v7.80M598.7 196.9l5.52 5.52M598.7 202.5l5.52 -5.52M598.9 199.4h7.80M602.8 195.5v7.80M600.1 196.6l5.52 5.52M600.1 202.1l5.52 -5.52M600.3 199.0h7.80M604.2 195.1v7.80M601.5 196.2l5.52 5.52M601.5 201.7l5.52 -5.52M601.7 199.3h7.80M605.6 195.4v7.80M602.8 196.5l5.52 5.52M602.8 202.0l5.52 -5.52M603.1 199.1h7.80M607.0 195.2v7.80M604.2 196.3l5.52 5.52M604.2 201.8l5.52 -5.52M604.5 198.8h7.80M608.4 194.9v7.80M605.6 196.1l5.52 5.52M605.6 201.6l5.52 -5.52M605.9 198.6h7.80M609.8 194.7v7.80M607.0 195.8l5.52 5.52M607.0 201.3l5.52 -5.52M607.3 198.3h7.80M611.2 194.4v7.80M608.4 195.5l5.52 5.52M608.4 201.0l5.52 -5.52M608.6 198.3h7.80M612.5 194.4v7.80M609.8 195.5l5.52 5.52M609.8 201.0l5.52 -5.52M610.0 198.2h7.80M613.9 194.3v7.80M611.2 195.5l5.52 5.52M611.2 201.0l5.52 -5.52M611.4 198.0h7.80M615.3 194.1v7.80M612.6 195.2l5.52 5.52M612.6 200.7l5.52 -5.52M612.8 197.8h7.80M616.7 193.9v7.80M613.9 195.0l5.52 5.52M613.9 200.5l5.52 -5.52M614.2 197.5h7.80M618.1 193.6v7.80M615.3 194.8l5.52 5.52M615.3 200.3l5.52 -5.52M615.6 197.6h7.80M619.5 193.7v7.80M616.7 194.8l5.52 5.52M616.7 200.3l5.52 -5.52M617.0 197.4h7.80M620.9 193.5v7.80M618.1 194.6l5.52 5.52M618.1 200.1l5.52 -5.52M618.3 197.0h7.80M622.2 193.1v7.80M619.5 194.2l5.52 5.52M619.5 199.7l5.52 -5.52M619.7 197.2h7.80M623.6 193.3v7.80M620.9 194.4l5.52 5.52M620.9 199.9l5.52 -5.52M621.1 197.0h7.80M625.0 193.1v7.80M622.3 194.3l5.52 5.52M622.3 199.8l5.52 -5.52M622.5 196.9h7.80M626.4 193.0v7.80M623.7 194.1l5.52 5.52M623.7 199.6l5.52 -5.52M623.9 196.4h7.80M627.8 192.5v7.80M625.0 193.7l5.52 5.52M625.0 199.2l5.52 -5.52M625.3 196.3h7.80M629.2 192.4v7.80M626.4 193.5l5.52 5.52M626.4 199.0l5.52 -5.52M626.7 195.9h7.80M630.6 192.0v7.80M627.8 193.1l5.52 5.52M627.8 198.6l5.52 -5.52M628.1 196.2h7.80M632.0 192.3v7.80M629.2 193.4l5.52 5.52M629.2 198.9l5.52 -5.52M629.4 195.4h7.80M633.3 191.5v7.80M630.6 192.6l5.52 5.52M630.6 198.2l5.52 -5.52M630.8 195.5h7.80M634.7 191.6v7.80M632.0 192.8l5.52 5.52M632.0 198.3l5.52 -5.52M632.2 195.4h7.80M636.1 191.5v7.80M633.4 192.6l5.52 5.52M633.4 198.1l5.52 -5.52M633.6 195.5h7.80M637.5 191.6v7.80M634.7 192.8l5.52 5.52M634.7 198.3l5.52 -5.52M635.0 195.1h7.80M638.9 191.2v7.80M636.1 192.4l5.52 5.52M636.1 197.9l5.52 -5.52M636.4 194.7h7.80M640.3 190.8v7.80M637.5 192.0l5.52 5.52M637.5 197.5l5.52 -5.52M637.8 194.4h7.80M641.7 190.5v7.80M638.9 191.6l5.52 5.52M638.9 197.1l5.52 -5.52M639.2 194.4h7.80M643.1 190.5v7.80M640.3 191.6l5.52 5.52M640.3 197.1l5.52 -5.52M640.5 194.4h7.80M644.4 190.5v7.80M641.7 191.6l5.52 5.52M641.7 197.1l5.52 -5.52M641.9 194.1h7.80M645.8 190.2v7.80M643.1 191.4l5.52 5.52M643.1 196.9l5.52 -5.52M643.3 193.9h7.80M647.2 190.0v7.80M644.5 191.1l5.52 5.52M644.5 196.6l5.52 -5.52M644.7 193.5h7.80M648.6 189.6v7.80M645.8 190.8l5.52 5.52M645.8 196.3l5.52 -5.52M646.1 193.4h7.80M650.0 189.5v7.80M647.2 190.7l5.52 5.52M647.2 196.2l5.52 -5.52M647.5 193.5h7.80M651.4 189.6v7.80M648.6 190.8l5.52 5.52M648.6 196.3l5.52 -5.52M648.9 192.8h7.80M652.8 188.9v7.80M650.0 190.0l5.52 5.52M650.0 195.6l5.52 -5.52M650.3 192.9h7.80M654.2 189.0v7.80M651.4 190.1l5.52 5.52M651.4 195.6l5.52 -5.52M651.6 193.0h7.80M655.5 189.1v7.80M652.8 190.3l5.52 5.52M652.8 195.8l5.52 -5.52M653.0 192.6h7.80M656.9 188.7v7.80M654.2 189.8l5.52 5.52M654.2 195.3l5.52 -5.52M654.4 192.1h7.80M658.3 188.2v7.80M655.6 189.4l5.52 5.52M655.6 194.9l5.52 -5.52M655.8 192.2h7.80M659.7 188.3v7.80M656.9 189.4l5.52 5.52M656.9 194.9l5.52 -5.52M657.2 191.6h7.80M661.1 187.7v7.80M658.3 188.9l5.52 5.52M658.3 194.4l5.52 -5.52M658.6 191.6h7.80M662.5 187.7v7.80M659.7 188.8l5.52 5.52M659.7 194.4l5.52 -5.52M660.0 191.8h7.80M663.9 187.9v7.80M661.1 189.0l5.52 5.52M661.1 194.5l5.52 -5.52M661.4 191.6h7.80M665.3 187.7v7.80M662.5 188.8l5.52 5.52M662.5 194.3l5.52 -5.52M662.7 190.6h7.80M666.6 186.7v7.80M663.9 187.8l5.52 5.52M663.9 193.3l5.52 -5.52M664.1 190.9h7.80M668.0 187.0v7.80M665.3 188.2l5.52 5.52M665.3 193.7l5.52 -5.52M665.5 191.0h7.80M669.4 187.1v7.80M666.7 188.2l5.52 5.52M666.7 193.7l5.52 -5.52M666.9 190.2h7.80M670.8 186.3v7.80M668.0 187.4l5.52 5.52M668.0 193.0l5.52 -5.52M668.3 190.2h7.80M672.2 186.3v7.80M669.4 187.4l5.52 5.52M669.4 193.0l5.52 -5.52M669.7 190.3h7.80M673.6 186.4v7.80M670.8 187.5l5.52 5.52M670.8 193.1l5.52 -5.52M671.1 189.6h7.80M675.0 185.7v7.80M672.2 186.8l5.52 5.52M672.2 192.3l5.52 -5.52M672.4 189.6h7.80M676.3 185.7v7.80M673.6 186.9l5.52 5.52M673.6 192.4l5.52 -5.52M673.8 189.3h7.80M677.7 185.4v7.80M675.0 186.5l5.52 5.52M675.0 192.0l5.52 -5.52M675.2 188.7h7.80M679.1 184.8v7.80M676.4 185.9l5.52 5.52M676.4 191.4l5.52 -5.52M676.6 189.0h7.80M680.5 185.1v7.80M677.8 186.2l5.52 5.52M677.8 191.7l5.52 -5.52M678.0 188.6h7.80M681.9 184.7v7.80M679.1 185.9l5.52 5.52M679.1 191.4l5.52 -5.52M679.4 188.7h7.80M683.3 184.8v7.80M680.5 185.9l5.52 5.52M680.5 191.4l5.52 -5.52M680.8 188.6h7.80M684.7 184.7v7.80M681.9 185.9l5.52 5.52M681.9 191.4l5.52 -5.52M682.2 188.2h7.80M686.1 184.3v7.80M683.3 185.4l5.52 5.52M683.3 191.0l5.52 -5.52M683.5 187.7h7.80M687.4 183.8v7.80M684.7 185.0l5.52 5.52M684.7 190.5l5.52 -5.52M684.9 187.7h7.80M688.8 183.8v7.80M686.1 185.0l5.52 5.52M686.1 190.5l5.52 -5.52M686.3 187.5h7.80M690.2 183.6v7.80M687.5 184.7l5.52 5.52M687.5 190.2l5.52 -5.52M687.7 187.5h7.80M691.6 183.6v7.80M688.9 184.7l5.52 5.52M688.9 190.2l5.52 -5.52M689.1 186.6h7.80M693.0 182.7v7.80M690.2 183.9l5.52 5.52M690.2 189.4l5.52 -5.52M690.5 186.5h7.80M694.4 182.6v7.80M691.6 183.7l5.52 5.52M691.6 189.2l5.52 -5.52M691.9 186.2h7.80M695.8 182.3v7.80M693.0 183.4l5.52 5.52M693.0 188.9l5.52 -5.52M693.3 186.5h7.80M697.2 182.6v7.80M694.4 183.7l5.52 5.52M694.4 189.3l5.52 -5.52M694.6 186.1h7.80M698.5 182.2v7.80M695.8 183.4l5.52 5.52M695.8 188.9l5.52 -5.52M696.0 185.8h7.80M699.9 181.9v7.80M697.2 183.0l5.52 5.52M697.2 188.5l5.52 -5.52M697.4 185.5h7.80M701.3 181.6v7.80M698.6 182.8l5.52 5.52M698.6 188.3l5.52 -5.52M698.8 185.4h7.80M702.7 181.5v7.80M699.9 182.6l5.52 5.52M699.9 188.1l5.52 -5.52M700.2 185.1h7.80M704.1 181.2v7.80M701.3 182.3l5.52 5.52M701.3 187.8l5.52 -5.52M701.6 185.0h7.80M705.5 181.1v7.80M702.7 182.3l5.52 5.52M702.7 187.8l5.52 -5.52M703.0 184.8h7.80M706.9 180.9v7.80M704.1 182.0l5.52 5.52M704.1 187.5l5.52 -5.52M704.4 185.0h7.80M708.3 181.1v7.80M705.5 182.3l5.52 5.52M705.5 187.8l5.52 -5.52M705.7 184.5h7.80M709.6 180.6v7.80M706.9 181.8l5.52 5.52M706.9 187.3l5.52 -5.52M707.1 184.1h7.80M711.0 180.2v7.80M708.3 181.3l5.52 5.52M708.3 186.8l5.52 -5.52M708.5 183.9h7.80M712.4 180.0v7.80M709.7 181.1l5.52 5.52M709.7 186.7l5.52 -5.52M709.9 184.1h7.80M713.8 180.2v7.80M711.0 181.4l5.52 5.52M711.0 186.9l5.52 -5.52M711.3 183.7h7.80M715.2 179.8v7.80M712.4 181.0l5.52 5.52M712.4 186.5l5.52 -5.52M712.7 183.5h7.80M716.6 179.6v7.80M713.8 180.7l5.52 5.52M713.8 186.2l5.52 -5.52M714.1 183.4h7.80M718.0 179.5v7.80M715.2 180.6l5.52 5.52M715.2 186.1l5.52 -5.52M715.5 183.4h7.80M719.4 179.5v7.80M716.6 180.6l5.52 5.52M716.6 186.2l5.52 -5.52M716.8 182.5h7.80M720.7 178.6v7.80M718.0 179.7l5.52 5.52M718.0 185.2l5.52 -5.52M718.2 182.4h7.80M722.1 178.5v7.80M719.4 179.6l5.52 5.52M719.4 185.2l5.52 -5.52M719.6 182.0h7.80M723.5 178.1v7.80M720.8 179.2l5.52 5.52M720.8 184.7l5.52 -5.52M721.0 182.3h7.80M724.9 178.4v7.80M722.1 179.5l5.52 5.52M722.1 185.1l5.52 -5.52M722.4 181.9h7.80M726.3 178.0v7.80M723.5 179.1l5.52 5.52M723.5 184.6l5.52 -5.52M723.8 181.6h7.80M727.7 177.7v7.80M724.9 178.8l5.52 5.52M724.9 184.3l5.52 -5.52M725.2 181.4h7.80M729.1 177.5v7.80M726.3 178.6l5.52 5.52M726.3 184.1l5.52 -5.52M726.5 181.5h7.80M730.4 177.6v7.80M727.7 178.8l5.52 5.52M727.7 184.3l5.52 -5.52M727.9 181.1h7.80M731.8 177.2v7.80M729.1 178.3l5.52 5.52M729.1 183.9l5.52 -5.52M729.3 180.8h7.80M733.2 176.9v7.80M730.5 178.0l5.52 5.52M730.5 183.6l5.52 -5.52M730.7 181.0h7.80M734.6 177.1v7.80M731.9 178.3l5.52 5.52M731.9 183.8l5.52 -5.52M732.1 180.3h7.80M736.0 176.4v7.80M733.2 177.5l5.52 5.52M733.2 183.0l5.52 -5.52M733.5 180.0h7.80M737.4 176.1v7.80M734.6 177.2l5.52 5.52M734.6 182.8l5.52 -5.52M734.9 180.5h7.80M738.8 176.6v7.80M736.0 177.7l5.52 5.52M736.0 183.3l5.52 -5.52M736.3 179.8h7.80M740.2 175.9v7.80M737.4 177.0l5.52 5.52M737.4 182.6l5.52 -5.52M737.6 179.6h7.80M741.5 175.7v7.80M738.8 176.8l5.52 5.52M738.8 182.3l5.52 -5.52M739.0 179.3h7.80M742.9 175.4v7.80M740.2 176.5l5.52 5.52M740.2 182.1l5.52 -5.52M740.4 179.2h7.80M744.3 175.3v7.80M741.6 176.5l5.52 5.52M741.6 182.0l5.52 -5.52M741.8 179.3h7.80M745.7 175.4v7.80M743.0 176.5l5.52 5.52M743.0 182.0l5.52 -5.52M743.2 179.1h7.80M747.1 175.2v7.80M744.3 176.3l5.52 5.52M744.3 181.8l5.52 -5.52M744.6 178.8h7.80M748.5 174.9v7.80M745.7 176.0l5.52 5.52M745.7 181.6l5.52 -5.52M746.0 178.4h7.80M749.9 174.5v7.80M747.1 175.6l5.52 5.52M747.1 181.1l5.52 -5.52M747.4 177.9h7.80M751.3 174.0v7.80M748.5 175.1l5.52 5.52M748.5 180.6l5.52 -5.52M748.7 178.1h7.80M752.6 174.2v7.80M749.9 175.4l5.52 5.52M749.9 180.9l5.52 -5.52M750.1 178.2h7.80M754.0 174.3v7.80M751.3 175.5l5.52 5.52M751.3 181.0l5.52 -5.52M751.5 177.9h7.80M755.4 174.0v7.80M752.7 175.1l5.52 5.52M752.7 180.7l5.52 -5.52M752.9 177.4h7.80M756.8 173.5v7.80M754.0 174.6l5.52 5.52M754.0 180.1l5.52 -5.52M754.3 177.4h7.80M758.2 173.5v7.80M755.4 174.7l5.52 5.52M755.4 180.2l5.52 -5.52M755.7 176.9h7.80M759.6 173.0v7.80M756.8 174.2l5.52 5.52M756.8 179.7l5.52 -5.52M757.1 176.8h7.80M761.0 172.9v7.80M758.2 174.0l5.52 5.52M758.2 179.5l5.52 -5.52M758.5 176.3h7.80M762.4 172.4v7.80M759.6 173.5l5.52 5.52M759.6 179.0l5.52 -5.52M759.8 176.3h7.80M763.7 172.4v7.80M761.0 173.6l5.52 5.52M761.0 179.1l5.52 -5.52M761.2 176.2h7.80M765.1 172.3v7.80M762.4 173.5l5.52 5.52M762.4 179.0l5.52 -5.52M762.6 175.9h7.80M766.5 172.0v7.80M763.8 173.2l5.52 5.52M763.8 178.7l5.52 -5.52M764.0 176.0h7.80M767.9 172.1v7.80M765.1 173.2l5.52 5.52M765.1 178.7l5.52 -5.52M765.4 176.0h7.80M769.3 172.1v7.80M766.5 173.2l5.52 5.52M766.5 178.7l5.52 -5.52M766.8 175.7h7.80M770.7 171.8v7.80M767.9 172.9l5.52 5.52M767.9 178.4l5.52 -5.52M768.2 175.1h7.80M772.1 171.2v7.80M769.3 172.3l5.52 5.52M769.3 177.8l5.52 -5.52M769.6 174.8h7.80M773.5 170.9v7.80M770.7 172.0l5.52 5.52M770.7 177.5l5.52 -5.52M770.9 174.6h7.80M774.8 170.7v7.80M772.1 171.8l5.52 5.52M772.1 177.3l5.52 -5.52M772.3 174.3h7.80M776.2 170.4v7.80M773.5 171.5l5.52 5.52M773.5 177.0l5.52 -5.52M773.7 174.3h7.80M777.6 170.4v7.80M774.9 171.6l5.52 5.52M774.9 177.1l5.52 -5.52M775.1 174.2h7.80M779.0 170.3v7.80M776.2 171.5l5.52 5.52M776.2 177.0l5.52 -5.52M776.5 174.0h7.80M780.4 170.1v7.80M777.6 171.2l5.52 5.52M777.6 176.7l5.52 -5.52M777.9 173.8h7.80M781.8 169.9v7.80M779.0 171.0l5.52 5.52M779.0 176.5l5.52 -5.52M779.3 173.5h7.80M783.2 169.6v7.80M780.4 170.8l5.52 5.52M780.4 176.3l5.52 -5.52M780.7 173.3h7.80M784.6 169.4v7.80M781.8 170.5l5.52 5.52M781.8 176.0l5.52 -5.52M782.0 172.9h7.80M785.9 169.0v7.80M783.2 170.1l5.52 5.52M783.2 175.7l5.52 -5.52"/></g>
<text transform="translate(92.7 572.7) scale(0.990 1)" font-size="29.0" text-anchor="middle">0</text>
<text transform="translate(231.4 572.7) scale(0.990 1)" font-size="29.0" text-anchor="middle">2000</text>
<text transform="translate(370.1 572.7) scale(0.990 1)" font-size="29.0" text-anchor="middle">4000</text>
<text transform="translate(508.9 572.7) scale(0.990 1)" font-size="29.0" text-anchor="middle">6000</text>
<text transform="translate(647.6 572.7) scale(0.990 1)" font-size="29.0" text-anchor="middle">8000</text>
<text transform="translate(786.3 572.7) scale(0.990 1)" font-size="29.0" text-anchor="middle">10000</text>
<text transform="translate(81.9 543.3) scale(0.990 1)" font-size="29.0" text-anchor="end">10</text>
<text transform="translate(81.9 412.9) scale(0.990 1)" font-size="29.0" text-anchor="end">20</text>
<text transform="translate(81.9 282.4) scale(0.990 1)" font-size="29.0" text-anchor="end">30</text>
<text transform="translate(81.9 152.0) scale(0.990 1)" font-size="29.0" text-anchor="end">40</text>
<text transform="translate(81.9 21.6) scale(0.990 1)" font-size="29.0" text-anchor="end">50</text>
<text transform="translate(459 610.7) scale(1.043 1)" font-size="30.5" text-anchor="middle">Input power (kW)</text>
<text transform="translate(34.4 271.3) rotate(-90) scale(1.037 1)" font-size="30.5" text-anchor="middle">RMS of vibration acceleration (m/s<tspan font-size="25.5" dy="-15">2</tspan><tspan dy="15">)</tspan></text>
<circle cx="566.9" cy="85.7" r="3.5" fill="none" stroke="#0000ff" stroke-width="2.4"/>
<path d="M563.2 119.2h7.80M567.1 115.3v7.80M564.3 116.4l5.52 5.52M564.3 122.0l5.52 -5.52" fill="none" stroke="#ff0000" stroke-width="1.4"/>
<text transform="translate(608 95.5) scale(0.985 1)" font-size="26.2">Silicon rubber</text>
<text transform="translate(608 128.3) scale(0.985 1)" font-size="26.2">Superalloy</text>
</svg></body></html>
